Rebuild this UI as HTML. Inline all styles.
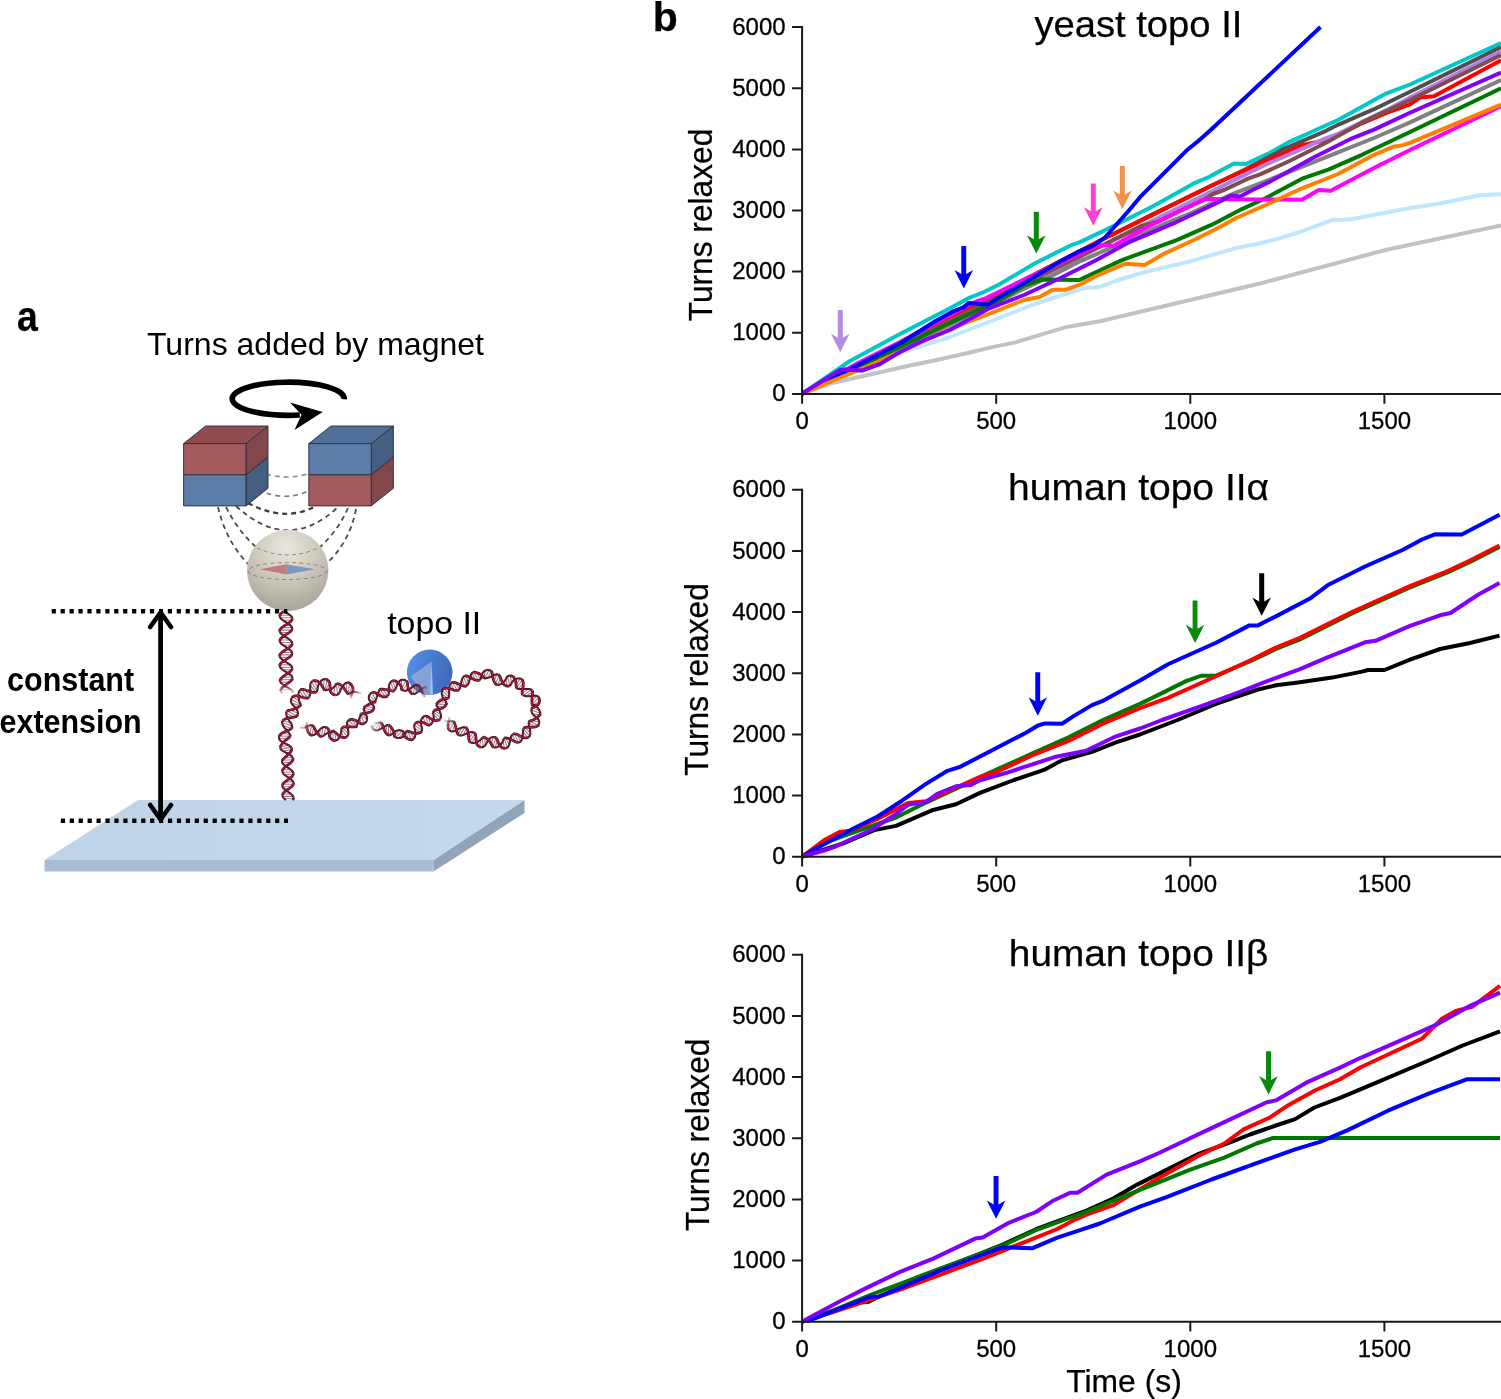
<!DOCTYPE html>
<html lang="en"><head><meta charset="utf-8"><title>Figure</title>
<style>html,body{margin:0;padding:0;background:#fff}body{width:1501px;height:1399px;overflow:hidden}svg text{white-space:pre}</style>
</head><body>
<svg width="1501" height="1399" viewBox="0 0 1501 1399" style="display:block">
<rect width="1501" height="1399" fill="#fff"/>
<defs>
<radialGradient id="gSph" cx="0.48" cy="0.22" r="0.85">
<stop offset="0" stop-color="#ebe7de"/><stop offset="0.45" stop-color="#cfcabf"/><stop offset="0.8" stop-color="#b3aea2"/><stop offset="1" stop-color="#a39e92"/>
</radialGradient>
<linearGradient id="gTopo" x1="0" y1="0" x2="1" y2="0.3">
<stop offset="0" stop-color="#5a93ea"/><stop offset="0.5" stop-color="#487cd3"/><stop offset="1" stop-color="#3f6cbe"/>
</linearGradient>
<linearGradient id="gSlide" x1="0" y1="0" x2="1" y2="0">
<stop offset="0" stop-color="#bfd4e8"/><stop offset="1" stop-color="#c4d9eb"/>
</linearGradient>
</defs>
<g id="slide">
<path d="M44.5 860V871.5H433.5V860Z" fill="#a9bed2"/>
<path d="M433.5 871.5L524.5 813V800L433.5 860Z" fill="#91a5b8"/>
<path d="M138 800H524.5L433.5 860H44.5Z" fill="url(#gSlide)"/>
</g>
<g id="field">
<path d="M266 474Q287 480 308 474" fill="none" stroke="#8c8c8c" stroke-width="1.7" stroke-dasharray="5 4"/>
<path d="M258 490Q286 502 308 491" fill="none" stroke="#7c7c7c" stroke-width="1.7" stroke-dasharray="5 4"/>
<path d="M248 503Q285 523 316 506" fill="none" stroke="#3c3c3c" stroke-width="2.3" stroke-dasharray="5 4"/>
<path d="M236 506Q288 554 338 507" fill="none" stroke="#4a4a4a" stroke-width="1.8" stroke-dasharray="5 4"/>
<path d="M226 507Q240 535 262 552" fill="none" stroke="#4a4a4a" stroke-width="1.8" stroke-dasharray="5 4"/>
<path d="M348 508Q336 535 314 552" fill="none" stroke="#4a4a4a" stroke-width="1.8" stroke-dasharray="5 4"/>
<path d="M218 507Q226 542 250 566" fill="none" stroke="#4a4a4a" stroke-width="1.8" stroke-dasharray="5 4"/>
<path d="M356 509Q350 542 326 564" fill="none" stroke="#4a4a4a" stroke-width="1.8" stroke-dasharray="5 4"/>
</g>
<g id="magnets">
<path d="M246 474.7L268 457.09999999999997V488.29999999999995L246 505.9Z" fill="#445f80" stroke="#2b2b3b" stroke-width="0.9" stroke-linejoin="round"/>
<path d="M246 443.6L268 426.0V457.09999999999997L246 474.7Z" fill="#82474b" stroke="#2b2b3b" stroke-width="0.9" stroke-linejoin="round"/>
<path d="M183.6 443.6L205.6 426.0H268L246 443.6Z" fill="#8f4d51" stroke="#2b2b3b" stroke-width="0.9" stroke-linejoin="round"/>
<path d="M183.6 474.7H246V505.9H183.6Z" fill="#5b7da7" stroke="#2b2b3b" stroke-width="0.9" stroke-linejoin="round"/>
<path d="M183.6 443.6H246V474.7H183.6Z" fill="#a55b5d" stroke="#2b2b3b" stroke-width="0.9" stroke-linejoin="round"/>
<path d="M371.2 474.7L393.4 457.09999999999997V488.29999999999995L371.2 505.9Z" fill="#82474b" stroke="#2b2b3b" stroke-width="0.9" stroke-linejoin="round"/>
<path d="M371.2 443.6L393.4 426.0V457.09999999999997L371.2 474.7Z" fill="#445f80" stroke="#2b2b3b" stroke-width="0.9" stroke-linejoin="round"/>
<path d="M308.8 443.6L331.0 426.0H393.4L371.2 443.6Z" fill="#50709a" stroke="#2b2b3b" stroke-width="0.9" stroke-linejoin="round"/>
<path d="M308.8 474.7H371.2V505.9H308.8Z" fill="#a55b5d" stroke="#2b2b3b" stroke-width="0.9" stroke-linejoin="round"/>
<path d="M308.8 443.6H371.2V474.7H308.8Z" fill="#5b7da7" stroke="#2b2b3b" stroke-width="0.9" stroke-linejoin="round"/>
</g>
<path d="M344.2 399.3A56 16.6 0 1 0 299.8 415.0" fill="none" stroke="#000" stroke-width="5.6"/>
<path d="M322.7 411.9L290 402.6L301.5 414.8L294.5 430Z" fill="#000"/>
<g id="bead">
<circle cx="287.7" cy="570.5" r="40.7" fill="url(#gSph)"/>
<ellipse cx="287.5" cy="571" rx="39.5" ry="8.5" fill="none" stroke="#77736a" stroke-width="1" stroke-dasharray="4 3.2" opacity="0.8"/>
<path d="M257 548Q287.5 562 318 548" fill="none" stroke="#77736a" stroke-width="1" stroke-dasharray="4 3.2" opacity="0.8"/>
<path d="M259.5 569.3L286.6 564.2V574.6Z" fill="#bd7275" opacity="0.9"/>
<path d="M315 569.3L286.6 564.2V574.6Z" fill="#7392c2" opacity="0.9"/>
</g>
<g id="dna">
<path d="M281.9 612.7L286.5 612.7M279.9 615.2L290.1 615.2M280.2 617.7L292.1 617.7M282.7 620.2L291.8 620.2M286.5 622.7L289.3 622.7M290.1 625.1L285.5 625.1M292.1 627.6L281.9 627.6M291.8 630.1L279.9 630.1M289.3 632.6L280.2 632.6M285.5 635.1L282.7 635.1M281.9 637.5L286.5 637.5M279.9 640.0L290.1 640.0M280.2 642.5L292.1 642.5M282.7 645.0L291.8 645.0M286.5 647.5L289.2 647.5M290.1 650.0L285.4 649.9M292.1 652.5L281.8 652.4M291.7 654.9L279.8 654.9M289.2 657.4L280.1 657.4M285.4 659.9L282.7 659.9M281.8 662.3L286.5 662.3M279.8 664.9L290.1 664.8M280.2 667.4L292.1 667.2M282.7 669.8L291.8 669.7M286.6 672.2L289.3 672.2M290.2 674.6L285.6 674.8M292.3 677.0L282.1 677.4M292.1 679.5L280.2 679.9M289.7 682.0L280.6 682.4" stroke="#7a5560" stroke-width="1.1" fill="none" opacity="0.75"/>
<path d="M286.0 684.7L283.3 684.8" stroke="#7a5560" stroke-width="1.1" fill="none" opacity="0.60"/>
<path d="M282.5 687.3L287.2 687.1" stroke="#7a5560" stroke-width="1.1" fill="none" opacity="0.45"/>
<path d="M280.7 689.9L290.9 689.4" stroke="#7a5560" stroke-width="1.1" fill="none" opacity="0.30"/>
<path d="M281.1 692.4L293.0 691.8" stroke="#7a5560" stroke-width="1.1" fill="none" opacity="0.15"/>
<path d="M279.7 616.3L279.9 617.1L280.3 617.9L281.0 618.7L281.9 619.5L282.9 620.3L284.1 621.1L285.4 621.9L286.6 622.7L287.9 623.5L289.1 624.3L290.1 625.1L291.0 625.9L291.7 626.7L292.1 627.5L292.3 628.3L292.2 629.1" stroke="#3d1820" stroke-width="2.0" fill="none" stroke-linecap="butt"/>
<path d="M279.7 616.3L279.9 617.1L280.3 617.9L281.0 618.7L281.9 619.5L282.9 620.3L284.1 621.1L285.4 621.9L286.6 622.7L287.9 623.5L289.1 624.3L290.1 625.1L291.0 625.9L291.7 626.7L292.1 627.5L292.3 628.3L292.2 629.1" stroke="#8f1737" stroke-width="0.9" fill="none" stroke-linecap="butt"/>
<path d="M279.7 641.1L279.9 641.9L280.4 642.7L281.0 643.5L281.9 644.3L283.0 645.1L284.1 645.9L285.4 646.7L286.7 647.6L287.9 648.4L289.1 649.2L290.1 650.0L291.0 650.8L291.6 651.6L292.1 652.4L292.2 653.2L292.2 654.0" stroke="#3d1820" stroke-width="2.0" fill="none" stroke-linecap="butt"/>
<path d="M279.7 641.1L279.9 641.9L280.4 642.7L281.0 643.5L281.9 644.3L283.0 645.1L284.1 645.9L285.4 646.7L286.7 647.6L287.9 648.4L289.1 649.2L290.1 650.0L291.0 650.8L291.6 651.6L292.1 652.4L292.2 653.2L292.2 654.0" stroke="#8f1737" stroke-width="0.9" fill="none" stroke-linecap="butt"/>
<path d="M279.7 666.0L279.9 666.8L280.4 667.7L281.1 668.4L282.0 669.3L283.0 670.0L284.2 670.8L285.5 671.6L286.8 672.4L288.1 673.1L289.3 673.9L290.3 674.7L291.2 675.4L291.9 676.2L292.3 677.0L292.5 677.7L292.5 678.5" stroke="#3d1820" stroke-width="2.0" fill="none" stroke-linecap="butt"/>
<path d="M279.7 666.0L279.9 666.8L280.4 667.7L281.1 668.4L282.0 669.3L283.0 670.0L284.2 670.8L285.5 671.6L286.8 672.4L288.1 673.1L289.3 673.9L290.3 674.7L291.2 675.4L291.9 676.2L292.3 677.0L292.5 677.7L292.5 678.5" stroke="#8f1737" stroke-width="0.9" fill="none" stroke-linecap="butt"/>
<path d="M280.6 691.1L280.8 691.9L281.3 692.7L282.1 693.4" stroke="#3d1820" stroke-width="2.0" fill="none" stroke-linecap="butt" opacity="0.2"/>
<path d="M280.6 691.1L280.8 691.9L281.3 692.7L282.1 693.4" stroke="#8f1737" stroke-width="0.9" fill="none" stroke-linecap="butt" opacity="0.2"/>
<path d="M284.6 611.5L285.8 612.3L287.1 613.1L288.3 613.9L289.5 614.7L290.5 615.5L291.3 616.3L291.9 617.1L292.2 617.9L292.3 618.7" stroke="#3d1820" stroke-width="2.0" fill="none" stroke-linecap="butt"/>
<path d="M284.6 611.5L285.8 612.3L287.1 613.1L288.3 613.9L289.5 614.7L290.5 615.5L291.3 616.3L291.9 617.1L292.2 617.9L292.3 618.7" stroke="#8f1737" stroke-width="0.9" fill="none" stroke-linecap="butt"/>
<path d="M279.8 631.5L280.1 632.3L280.6 633.1L281.4 633.9L282.3 634.7L283.4 635.5L284.6 636.3L285.9 637.1L287.2 637.9L288.4 638.7L289.5 639.5L290.5 640.3L291.3 641.1L291.9 642.0L292.2 642.8L292.3 643.6" stroke="#3d1820" stroke-width="2.0" fill="none" stroke-linecap="butt"/>
<path d="M279.8 631.5L280.1 632.3L280.6 633.1L281.4 633.9L282.3 634.7L283.4 635.5L284.6 636.3L285.9 637.1L287.2 637.9L288.4 638.7L289.5 639.5L290.5 640.3L291.3 641.1L291.9 642.0L292.2 642.8L292.3 643.6" stroke="#8f1737" stroke-width="0.9" fill="none" stroke-linecap="butt"/>
<path d="M279.7 656.3L280.0 657.2L280.6 658.0L281.3 658.8L282.3 659.6L283.4 660.4L284.6 661.2L285.9 662.0L287.2 662.8L288.4 663.6L289.5 664.4L290.5 665.1L291.3 665.9L291.9 666.7L292.2 667.5L292.3 668.3" stroke="#3d1820" stroke-width="2.0" fill="none" stroke-linecap="butt"/>
<path d="M279.7 656.3L280.0 657.2L280.6 658.0L281.3 658.8L282.3 659.6L283.4 660.4L284.6 661.2L285.9 662.0L287.2 662.8L288.4 663.6L289.5 664.4L290.5 665.1L291.3 665.9L291.9 666.7L292.2 667.5L292.3 668.3" stroke="#8f1737" stroke-width="0.9" fill="none" stroke-linecap="butt"/>
<path d="M280.2 681.5L280.5 682.3L281.1 683.0L281.9 683.8" stroke="#3d1820" stroke-width="2.0" fill="none" stroke-linecap="butt"/>
<path d="M280.2 681.5L280.5 682.3L281.1 683.0L281.9 683.8" stroke="#8f1737" stroke-width="0.9" fill="none" stroke-linecap="butt"/>
<path d="M281.9 683.8L282.9 684.6L284.1 685.3L285.4 686.1" stroke="#3d1820" stroke-width="2.0" fill="none" stroke-linecap="butt" opacity="0.8"/>
<path d="M281.9 683.8L282.9 684.6L284.1 685.3L285.4 686.1" stroke="#8f1737" stroke-width="0.9" fill="none" stroke-linecap="butt" opacity="0.8"/>
<path d="M285.4 686.1L286.7 686.8L288.0 687.5L289.2 688.3" stroke="#3d1820" stroke-width="2.0" fill="none" stroke-linecap="butt" opacity="0.6"/>
<path d="M285.4 686.1L286.7 686.8L288.0 687.5L289.2 688.3" stroke="#8f1737" stroke-width="0.9" fill="none" stroke-linecap="butt" opacity="0.6"/>
<path d="M289.2 688.3L290.4 689.0L291.4 689.8L292.2 690.5" stroke="#3d1820" stroke-width="2.0" fill="none" stroke-linecap="butt" opacity="0.4"/>
<path d="M289.2 688.3L290.4 689.0L291.4 689.8L292.2 690.5" stroke="#8f1737" stroke-width="0.9" fill="none" stroke-linecap="butt" opacity="0.4"/>
<path d="M292.2 690.5L292.8 691.3L293.2 692.1L293.2 692.9" stroke="#3d1820" stroke-width="2.0" fill="none" stroke-linecap="butt" opacity="0.2"/>
<path d="M292.2 690.5L292.8 691.3L293.2 692.1L293.2 692.9" stroke="#8f1737" stroke-width="0.9" fill="none" stroke-linecap="butt" opacity="0.2"/>
<path d="M283.5 611.5L282.4 612.3L281.5 613.1L280.7 613.9L280.1 614.7L279.8 615.5L279.7 616.3" stroke="#451020" stroke-width="2.7" fill="none" stroke-linecap="butt"/>
<path d="M283.5 611.5L282.4 612.3L281.5 613.1L280.7 613.9L280.1 614.7L279.8 615.5L279.7 616.3" stroke="#b3173d" stroke-width="1.4" fill="none" stroke-linecap="butt"/>
<path d="M292.2 629.1L291.9 629.9L291.3 630.7L290.6 631.5L289.6 632.3L288.5 633.1L287.2 633.9L286.0 634.7L284.7 635.5L283.5 636.3L282.4 637.1L281.4 637.9L280.6 638.7L280.1 639.5L279.8 640.3L279.7 641.1" stroke="#451020" stroke-width="2.7" fill="none" stroke-linecap="butt"/>
<path d="M292.2 629.1L291.9 629.9L291.3 630.7L290.6 631.5L289.6 632.3L288.5 633.1L287.2 633.9L286.0 634.7L284.7 635.5L283.5 636.3L282.4 637.1L281.4 637.9L280.6 638.7L280.1 639.5L279.8 640.3L279.7 641.1" stroke="#b3173d" stroke-width="1.4" fill="none" stroke-linecap="butt"/>
<path d="M292.2 654.0L291.8 654.8L291.2 655.6L290.4 656.4L289.5 657.2L288.3 658.0L287.1 658.8L285.8 659.6L284.6 660.4L283.4 661.2L282.3 662.0L281.3 662.8L280.5 663.6L280.0 664.4L279.7 665.2L279.7 666.0" stroke="#451020" stroke-width="2.7" fill="none" stroke-linecap="butt"/>
<path d="M292.2 654.0L291.8 654.8L291.2 655.6L290.4 656.4L289.5 657.2L288.3 658.0L287.1 658.8L285.8 659.6L284.6 660.4L283.4 661.2L282.3 662.0L281.3 662.8L280.5 663.6L280.0 664.4L279.7 665.2L279.7 666.0" stroke="#b3173d" stroke-width="1.4" fill="none" stroke-linecap="butt"/>
<path d="M292.5 678.5L292.2 679.4L291.6 680.2L290.8 681.0L289.9 681.8L288.8 682.7L287.6 683.5" stroke="#451020" stroke-width="2.7" fill="none" stroke-linecap="butt"/>
<path d="M292.5 678.5L292.2 679.4L291.6 680.2L290.8 681.0L289.9 681.8L288.8 682.7L287.6 683.5" stroke="#b3173d" stroke-width="1.4" fill="none" stroke-linecap="butt"/>
<path d="M287.6 683.5L286.4 684.4L285.2 685.3L284.0 686.1" stroke="#451020" stroke-width="2.7" fill="none" stroke-linecap="butt" opacity="0.8"/>
<path d="M287.6 683.5L286.4 684.4L285.2 685.3L284.0 686.1" stroke="#b3173d" stroke-width="1.4" fill="none" stroke-linecap="butt" opacity="0.8"/>
<path d="M284.0 686.1L282.9 687.0L282.0 687.8L281.3 688.7" stroke="#451020" stroke-width="2.7" fill="none" stroke-linecap="butt" opacity="0.6"/>
<path d="M284.0 686.1L282.9 687.0L282.0 687.8L281.3 688.7" stroke="#b3173d" stroke-width="1.4" fill="none" stroke-linecap="butt" opacity="0.6"/>
<path d="M281.3 688.7L280.8 689.5L280.6 690.3L280.6 691.1" stroke="#451020" stroke-width="2.7" fill="none" stroke-linecap="butt" opacity="0.4"/>
<path d="M281.3 688.7L280.8 689.5L280.6 690.3L280.6 691.1" stroke="#b3173d" stroke-width="1.4" fill="none" stroke-linecap="butt" opacity="0.4"/>
<path d="M292.3 618.7L292.1 619.5L291.7 620.3L291.1 621.1L290.2 621.9L289.2 622.7L288.0 623.5L286.8 624.3L285.5 625.1L284.2 625.9L283.1 626.7L282.0 627.5L281.1 628.3L280.4 629.1L279.9 629.9L279.7 630.7L279.8 631.5" stroke="#451020" stroke-width="2.7" fill="none" stroke-linecap="butt"/>
<path d="M292.3 618.7L292.1 619.5L291.7 620.3L291.1 621.1L290.2 621.9L289.2 622.7L288.0 623.5L286.8 624.3L285.5 625.1L284.2 625.9L283.1 626.7L282.0 627.5L281.1 628.3L280.4 629.1L279.9 629.9L279.7 630.7L279.8 631.5" stroke="#b3173d" stroke-width="1.4" fill="none" stroke-linecap="butt"/>
<path d="M292.3 643.6L292.1 644.4L291.7 645.2L291.0 646.0L290.1 646.8L289.1 647.6L287.9 648.4L286.7 649.2L285.4 650.0L284.1 650.7L283.0 651.5L281.9 652.3L281.0 653.1L280.3 653.9L279.9 654.7L279.6 655.5L279.7 656.3" stroke="#451020" stroke-width="2.7" fill="none" stroke-linecap="butt"/>
<path d="M292.3 643.6L292.1 644.4L291.7 645.2L291.0 646.0L290.1 646.8L289.1 647.6L287.9 648.4L286.7 649.2L285.4 650.0L284.1 650.7L283.0 651.5L281.9 652.3L281.0 653.1L280.3 653.9L279.9 654.7L279.6 655.5L279.7 656.3" stroke="#b3173d" stroke-width="1.4" fill="none" stroke-linecap="butt"/>
<path d="M292.3 668.3L292.1 669.1L291.7 669.9L291.0 670.7L290.2 671.5L289.1 672.3L288.0 673.1L286.8 674.0L285.5 674.8L284.3 675.7L283.1 676.5L282.1 677.4L281.3 678.2L280.6 679.0L280.2 679.8L280.1 680.7L280.2 681.5" stroke="#451020" stroke-width="2.7" fill="none" stroke-linecap="butt"/>
<path d="M292.3 668.3L292.1 669.1L291.7 669.9L291.0 670.7L290.2 671.5L289.1 672.3L288.0 673.1L286.8 674.0L285.5 674.8L284.3 675.7L283.1 676.5L282.1 677.4L281.3 678.2L280.6 679.0L280.2 679.8L280.1 680.7L280.2 681.5" stroke="#b3173d" stroke-width="1.4" fill="none" stroke-linecap="butt"/>
<path d="M293.4 798.8L284.4 798.8M293.2 796.4L282.6 796.4M291.0 793.9L282.8 794.0M287.6 791.5L284.9 791.5M284.4 789.1L288.3 789.1M282.5 786.7L291.5 786.7M282.7 784.3L293.4 784.3M284.9 781.9L293.2 781.8M288.2 779.4L291.0 779.4M291.5 777.0L287.6 777.0M293.3 774.5L284.3 774.6M293.1 772.1L282.4 772.2M290.8 769.7L282.6 769.8M287.4 767.3L284.7 767.4M284.2 765.0L288.0 764.9M282.2 762.7L291.2 762.4M282.3 760.3L292.9 759.8M284.3 757.9L292.5 757.2M287.4 755.2L290.1 754.9M290.3 752.3L286.5 752.9M291.7 749.6L282.9 751.0M291.1 747.1L280.6 749.1M288.5 745.2L280.4 746.7M284.8 743.4L282.1 743.8M281.2 741.4L285.1 740.9M279.1 738.8L288.1 738.4M279.3 736.0L289.9 736.2M281.7 733.3L289.9 734.3M285.4 731.4L288.1 731.9M289.1 729.9L285.4 728.9M291.5 728.4L283.0 725.5M292.1 726.1L282.1 722.5M290.8 723.1L283.0 720.4M288.6 719.7L286.1 718.6M286.7 716.0L290.2 717.8M286.2 712.9L294.1 717.2M287.5 710.9L296.9 715.9M290.5 709.9L298.0 713.3M294.4 709.0L297.0 709.8M298.1 707.2L294.3 706.5M300.4 705.5L291.7 703.4M300.6 704.2L291.0 699.6M299.6 701.8L293.1 696.6M298.6 697.9L296.8 695.9M298.5 693.8L300.9 696.8M299.4 690.7L304.7 697.9M301.6 689.4L307.7 698.1M304.8 689.8L309.6 696.5M308.7 691.1L310.3 693.3M312.6 692.2L310.2 689.1M315.6 692.2L310.2 685.1M317.1 690.9L311.5 681.9M317.7 688.1L314.3 680.6M318.7 684.3L318.2 681.7M321.1 680.8L321.2 684.7M324.2 679.1L323.2 688.0M327.2 679.8L324.7 690.2M329.7 683.1L325.6 690.3M330.0 687.4L328.5 689.6M330.4 691.5L332.4 688.2M333.8 694.7L335.0 685.8M337.7 694.4L336.1 683.9M340.0 691.6L337.9 683.7M341.6 687.8L341.1 685.2M344.1 684.5L344.0 688.3M346.8 682.7L346.2 691.6M349.7 683.2L348.0 693.7" stroke="#7a5560" stroke-width="1.1" fill="none" opacity="0.75"/>
<path d="M352.2 686.0L349.4 693.8" stroke="#7a5560" stroke-width="1.1" fill="none" opacity="0.60"/>
<path d="M353.0 690.3L351.1 692.3" stroke="#7a5560" stroke-width="1.1" fill="none" opacity="0.45"/>
<path d="M351.7 693.9L355.0 691.9" stroke="#7a5560" stroke-width="1.1" fill="none" opacity="0.30"/>
<path d="M351.0 696.5L359.1 692.6" stroke="#7a5560" stroke-width="1.1" fill="none" opacity="0.15"/>
<path d="M293.6 797.6L293.4 796.8L293.0 796.0L292.3 795.2L291.5 794.4L290.5 793.6L289.5 792.8L288.3 792.0L287.1 791.2L286.0 790.4L285.0 789.6L284.1 788.8L283.3 788.0L282.8 787.2L282.4 786.4L282.4 785.6" stroke="#3d1820" stroke-width="2.0" fill="none" stroke-linecap="butt"/>
<path d="M293.6 797.6L293.4 796.8L293.0 796.0L292.3 795.2L291.5 794.4L290.5 793.6L289.5 792.8L288.3 792.0L287.1 791.2L286.0 790.4L285.0 789.6L284.1 788.8L283.3 788.0L282.8 787.2L282.4 786.4L282.4 785.6" stroke="#8f1737" stroke-width="0.9" fill="none" stroke-linecap="butt"/>
<path d="M293.5 773.5L293.3 772.7L292.9 771.9L292.3 771.1L291.5 770.3L290.6 769.5L289.5 768.7L288.3 767.9L287.1 767.1L286.0 766.4L284.9 765.6L283.9 764.8L283.1 764.1L282.5 763.3L282.1 762.5L282.0 761.8L282.1 761.0" stroke="#3d1820" stroke-width="2.0" fill="none" stroke-linecap="butt"/>
<path d="M293.5 773.5L293.3 772.7L292.9 771.9L292.3 771.1L291.5 770.3L290.6 769.5L289.5 768.7L288.3 767.9L287.1 767.1L286.0 766.4L284.9 765.6L283.9 764.8L283.1 764.1L282.5 763.3L282.1 762.5L282.0 761.8L282.1 761.0" stroke="#8f1737" stroke-width="0.9" fill="none" stroke-linecap="butt"/>
<path d="M291.5 747.8L291.0 747.0L290.3 746.4L289.4 745.7L288.4 745.1L287.2 744.5L286.0 743.9L284.7 743.3L283.4 742.7L282.2 742.0L281.2 741.3L280.3 740.5L279.6 739.7L279.1 738.7L278.9 737.7L279.0 736.7" stroke="#3d1820" stroke-width="2.0" fill="none" stroke-linecap="butt"/>
<path d="M291.5 747.8L291.0 747.0L290.3 746.4L289.4 745.7L288.4 745.1L287.2 744.5L286.0 743.9L284.7 743.3L283.4 742.7L282.2 742.0L281.2 741.3L280.3 740.5L279.6 739.7L279.1 738.7L278.9 737.7L279.0 736.7" stroke="#8f1737" stroke-width="0.9" fill="none" stroke-linecap="butt"/>
<path d="M292.1 727.0L292.1 726.2L291.9 725.2L291.5 724.2L290.9 723.1L290.2 722.1L289.4 721.0L288.6 719.8L287.9 718.6L287.3 717.4L286.8 716.2L286.4 715.0L286.2 714.0L286.2 713.0L286.4 712.2L286.8 711.5" stroke="#3d1820" stroke-width="2.0" fill="none" stroke-linecap="butt"/>
<path d="M292.1 727.0L292.1 726.2L291.9 725.2L291.5 724.2L290.9 723.1L290.2 722.1L289.4 721.0L288.6 719.8L287.9 718.6L287.3 717.4L286.8 716.2L286.4 715.0L286.2 714.0L286.2 713.0L286.4 712.2L286.8 711.5" stroke="#8f1737" stroke-width="0.9" fill="none" stroke-linecap="butt"/>
<path d="M300.8 704.7L300.7 704.1L300.4 703.7L300.1 702.9L299.6 702.1L299.3 700.9L299.0 699.6L298.7 698.3L298.5 696.9L298.4 695.4L298.5 694.1L298.6 692.9L298.9 691.8L299.3 690.9L299.8 690.2L300.5 689.7" stroke="#3d1820" stroke-width="2.0" fill="none" stroke-linecap="butt"/>
<path d="M300.8 704.7L300.7 704.1L300.4 703.7L300.1 702.9L299.6 702.1L299.3 700.9L299.0 699.6L298.7 698.3L298.5 696.9L298.4 695.4L298.5 694.1L298.6 692.9L298.9 691.8L299.3 690.9L299.8 690.2L300.5 689.7" stroke="#8f1737" stroke-width="0.9" fill="none" stroke-linecap="butt"/>
<path d="M316.6 691.7L317.0 691.2L317.3 690.5L317.5 689.6L317.6 688.6L317.8 687.5L318.0 686.2L318.5 684.9L319.0 683.6L319.8 682.4L320.6 681.3L321.6 680.4L322.6 679.7L323.7 679.2L324.8 679.0L325.8 679.2" stroke="#3d1820" stroke-width="2.0" fill="none" stroke-linecap="butt"/>
<path d="M316.6 691.7L317.0 691.2L317.3 690.5L317.5 689.6L317.6 688.6L317.8 687.5L318.0 686.2L318.5 684.9L319.0 683.6L319.8 682.4L320.6 681.3L321.6 680.4L322.6 679.7L323.7 679.2L324.8 679.0L325.8 679.2" stroke="#8f1737" stroke-width="0.9" fill="none" stroke-linecap="butt"/>
<path d="M335.7 695.0L337.0 694.7L338.2 694.1L339.0 693.3L339.7 692.3L340.2 691.2L340.7 690.0L341.2 688.7L341.8 687.4L342.6 686.2L343.5 685.1L344.4 684.2L345.2 683.4L346.1 682.9L347.0 682.6L348.0 682.6" stroke="#3d1820" stroke-width="2.0" fill="none" stroke-linecap="butt"/>
<path d="M335.7 695.0L337.0 694.7L338.2 694.1L339.0 693.3L339.7 692.3L340.2 691.2L340.7 690.0L341.2 688.7L341.8 687.4L342.6 686.2L343.5 685.1L344.4 684.2L345.2 683.4L346.1 682.9L347.0 682.6L348.0 682.6" stroke="#8f1737" stroke-width="0.9" fill="none" stroke-linecap="butt"/>
<path d="M351.2 697.4L351.7 698.2" stroke="#3d1820" stroke-width="2.0" fill="none" stroke-linecap="butt" opacity="0.2"/>
<path d="M351.2 697.4L351.7 698.2" stroke="#8f1737" stroke-width="0.9" fill="none" stroke-linecap="butt" opacity="0.2"/>
<path d="M286.0 800.0L284.9 799.2L284.0 798.4L283.3 797.6L282.8 796.8L282.4 796.0L282.4 795.2" stroke="#3d1820" stroke-width="2.0" fill="none" stroke-linecap="butt"/>
<path d="M286.0 800.0L284.9 799.2L284.0 798.4L283.3 797.6L282.8 796.8L282.4 796.0L282.4 795.2" stroke="#8f1737" stroke-width="0.9" fill="none" stroke-linecap="butt"/>
<path d="M293.5 783.1L293.4 782.3L293.0 781.5L292.4 780.7L291.6 779.9L290.6 779.1L289.5 778.3L288.4 777.5L287.2 776.8L286.1 776.0L285.0 775.2L284.1 774.4L283.3 773.6L282.7 772.8L282.4 772.0L282.2 771.2" stroke="#3d1820" stroke-width="2.0" fill="none" stroke-linecap="butt"/>
<path d="M293.5 783.1L293.4 782.3L293.0 781.5L292.4 780.7L291.6 779.9L290.6 779.1L289.5 778.3L288.4 777.5L287.2 776.8L286.1 776.0L285.0 775.2L284.1 774.4L283.3 773.6L282.7 772.8L282.4 772.0L282.2 771.2" stroke="#8f1737" stroke-width="0.9" fill="none" stroke-linecap="butt"/>
<path d="M292.9 757.8L292.4 757.1L291.8 756.2L290.9 755.5L289.9 754.8L288.8 754.1L287.5 753.4L286.3 752.8L285.0 752.2L283.8 751.6L282.8 751.0L281.8 750.3L281.1 749.7L280.6 749.0L280.3 748.2L280.2 747.4" stroke="#3d1820" stroke-width="2.0" fill="none" stroke-linecap="butt"/>
<path d="M292.9 757.8L292.4 757.1L291.8 756.2L290.9 755.5L289.9 754.8L288.8 754.1L287.5 753.4L286.3 752.8L285.0 752.2L283.8 751.6L282.8 751.0L281.8 750.3L281.1 749.7L280.6 749.0L280.3 748.2L280.2 747.4" stroke="#8f1737" stroke-width="0.9" fill="none" stroke-linecap="butt"/>
<path d="M290.1 735.0L289.9 734.3L289.5 733.6L288.8 732.8L288.1 731.9L287.2 731.0L286.3 730.0L285.4 728.9L284.5 727.8L283.7 726.7L283.0 725.5L282.5 724.5L282.2 723.5L282.1 722.6L282.2 721.8L282.5 721.0" stroke="#3d1820" stroke-width="2.0" fill="none" stroke-linecap="butt"/>
<path d="M290.1 735.0L289.9 734.3L289.5 733.6L288.8 732.8L288.1 731.9L287.2 731.0L286.3 730.0L285.4 728.9L284.5 727.8L283.7 726.7L283.0 725.5L282.5 724.5L282.2 723.5L282.1 722.6L282.2 721.8L282.5 721.0" stroke="#8f1737" stroke-width="0.9" fill="none" stroke-linecap="butt"/>
<path d="M297.8 714.5L298.0 713.5L297.9 712.4L297.6 711.3L297.1 710.0L296.4 708.8L295.5 707.7L294.5 706.7L293.5 705.7L292.6 704.7L291.8 703.6L291.2 702.5L291.0 701.2L290.9 700.0L291.3 698.7L291.9 697.7" stroke="#3d1820" stroke-width="2.0" fill="none" stroke-linecap="butt"/>
<path d="M297.8 714.5L298.0 713.5L297.9 712.4L297.6 711.3L297.1 710.0L296.4 708.8L295.5 707.7L294.5 706.7L293.5 705.7L292.6 704.7L291.8 703.6L291.2 702.5L291.0 701.2L290.9 700.0L291.3 698.7L291.9 697.7" stroke="#8f1737" stroke-width="0.9" fill="none" stroke-linecap="butt"/>
<path d="M308.9 697.4L309.4 696.8L309.8 695.9L310.1 694.9L310.3 693.7L310.4 692.4L310.3 691.1L310.3 689.7L310.2 688.2L310.2 686.9L310.2 685.5L310.4 684.3L310.6 683.3L311.2 682.3L311.8 681.6L312.8 681.0" stroke="#3d1820" stroke-width="2.0" fill="none" stroke-linecap="butt"/>
<path d="M308.9 697.4L309.4 696.8L309.8 695.9L310.1 694.9L310.3 693.7L310.4 692.4L310.3 691.1L310.3 689.7L310.2 688.2L310.2 686.9L310.2 685.5L310.4 684.3L310.6 683.3L311.2 682.3L311.8 681.6L312.8 681.0" stroke="#8f1737" stroke-width="0.9" fill="none" stroke-linecap="butt"/>
<path d="M325.1 690.5L325.4 690.4L325.9 690.2L326.8 690.0L327.8 689.7L329.0 689.4L330.4 689.0L331.7 688.5L332.9 687.9L334.0 687.1L334.7 686.3L335.4 685.5L335.6 684.7L335.8 684.2L336.2 683.8L336.7 683.6" stroke="#3d1820" stroke-width="2.0" fill="none" stroke-linecap="butt"/>
<path d="M325.1 690.5L325.4 690.4L325.9 690.2L326.8 690.0L327.8 689.7L329.0 689.4L330.4 689.0L331.7 688.5L332.9 687.9L334.0 687.1L334.7 686.3L335.4 685.5L335.6 684.7L335.8 684.2L336.2 683.8L336.7 683.6" stroke="#8f1737" stroke-width="0.9" fill="none" stroke-linecap="butt"/>
<path d="M348.7 694.0L349.1 693.9L349.5 693.7" stroke="#3d1820" stroke-width="2.0" fill="none" stroke-linecap="butt"/>
<path d="M348.7 694.0L349.1 693.9L349.5 693.7" stroke="#8f1737" stroke-width="0.9" fill="none" stroke-linecap="butt"/>
<path d="M349.5 693.7L349.9 693.2L350.7 692.8L351.5 692.2" stroke="#3d1820" stroke-width="2.0" fill="none" stroke-linecap="butt" opacity="0.8"/>
<path d="M349.5 693.7L349.9 693.2L350.7 692.8L351.5 692.2" stroke="#8f1737" stroke-width="0.9" fill="none" stroke-linecap="butt" opacity="0.8"/>
<path d="M351.5 692.2L352.6 691.9L353.9 691.8L355.4 691.9" stroke="#3d1820" stroke-width="2.0" fill="none" stroke-linecap="butt" opacity="0.6"/>
<path d="M351.5 692.2L352.6 691.9L353.9 691.8L355.4 691.9" stroke="#8f1737" stroke-width="0.9" fill="none" stroke-linecap="butt" opacity="0.6"/>
<path d="M355.4 691.9L356.8 692.1L358.1 692.4" stroke="#3d1820" stroke-width="2.0" fill="none" stroke-linecap="butt" opacity="0.4"/>
<path d="M355.4 691.9L356.8 692.1L358.1 692.4" stroke="#8f1737" stroke-width="0.9" fill="none" stroke-linecap="butt" opacity="0.4"/>
<path d="M358.1 692.4L359.3 692.7L360.4 693.2L361.2 693.5" stroke="#3d1820" stroke-width="2.0" fill="none" stroke-linecap="butt" opacity="0.2"/>
<path d="M358.1 692.4L359.3 692.7L360.4 693.2L361.2 693.5" stroke="#8f1737" stroke-width="0.9" fill="none" stroke-linecap="butt" opacity="0.2"/>
<path d="M292.7 800.0L293.2 799.1L293.5 798.4L293.6 797.6" stroke="#451020" stroke-width="2.7" fill="none" stroke-linecap="butt"/>
<path d="M292.7 800.0L293.2 799.1L293.5 798.4L293.6 797.6" stroke="#b3173d" stroke-width="1.4" fill="none" stroke-linecap="butt"/>
<path d="M282.4 785.6L282.5 784.8L282.9 784.0L283.5 783.2L284.3 782.4L285.3 781.6L286.4 780.8L287.5 780.0L288.6 779.1L289.8 778.3L290.8 777.5L291.7 776.7L292.5 775.9L293.0 775.1L293.4 774.3L293.5 773.5" stroke="#451020" stroke-width="2.7" fill="none" stroke-linecap="butt"/>
<path d="M282.4 785.6L282.5 784.8L282.9 784.0L283.5 783.2L284.3 782.4L285.3 781.6L286.4 780.8L287.5 780.0L288.6 779.1L289.8 778.3L290.8 777.5L291.7 776.7L292.5 775.9L293.0 775.1L293.4 774.3L293.5 773.5" stroke="#b3173d" stroke-width="1.4" fill="none" stroke-linecap="butt"/>
<path d="M282.1 761.0L282.4 760.2L282.9 759.4L283.6 758.6L284.5 757.8L285.5 756.9L286.5 756.0L287.6 755.1L288.6 754.1L289.6 753.2L290.4 752.2L291.1 751.3L291.5 750.3L291.7 749.4L291.7 748.6L291.5 747.8" stroke="#451020" stroke-width="2.7" fill="none" stroke-linecap="butt"/>
<path d="M282.1 761.0L282.4 760.2L282.9 759.4L283.6 758.6L284.5 757.8L285.5 756.9L286.5 756.0L287.6 755.1L288.6 754.1L289.6 753.2L290.4 752.2L291.1 751.3L291.5 750.3L291.7 749.4L291.7 748.6L291.5 747.8" stroke="#b3173d" stroke-width="1.4" fill="none" stroke-linecap="butt"/>
<path d="M279.0 736.7L279.3 735.9L279.9 735.0L280.7 734.1L281.7 733.3L282.9 732.6L284.1 732.0L285.4 731.4L286.7 730.8L287.9 730.4L289.1 729.9L290.1 729.4L290.9 728.9L291.5 728.4L291.9 727.7L292.1 727.0" stroke="#451020" stroke-width="2.7" fill="none" stroke-linecap="butt"/>
<path d="M279.0 736.7L279.3 735.9L279.9 735.0L280.7 734.1L281.7 733.3L282.9 732.6L284.1 732.0L285.4 731.4L286.7 730.8L287.9 730.4L289.1 729.9L290.1 729.4L290.9 728.9L291.5 728.4L291.9 727.7L292.1 727.0" stroke="#b3173d" stroke-width="1.4" fill="none" stroke-linecap="butt"/>
<path d="M286.8 711.5L287.4 711.0L288.2 710.6L289.2 710.2L290.3 710.0L291.5 709.7L292.8 709.4L294.1 709.1L295.5 708.6L296.7 708.0L297.9 707.4L298.9 706.7L299.7 706.1L300.3 705.6L300.7 705.1L300.8 704.7" stroke="#451020" stroke-width="2.7" fill="none" stroke-linecap="butt"/>
<path d="M286.8 711.5L287.4 711.0L288.2 710.6L289.2 710.2L290.3 710.0L291.5 709.7L292.8 709.4L294.1 709.1L295.5 708.6L296.7 708.0L297.9 707.4L298.9 706.7L299.7 706.1L300.3 705.6L300.7 705.1L300.8 704.7" stroke="#b3173d" stroke-width="1.4" fill="none" stroke-linecap="butt"/>
<path d="M300.5 689.7L301.3 689.4L302.2 689.3L303.3 689.4L304.4 689.7L305.6 690.0L306.9 690.5L308.2 690.9L309.6 691.4L310.9 691.8L312.1 692.1L313.3 692.3L314.4 692.4L315.3 692.3L316.0 692.1L316.6 691.7" stroke="#451020" stroke-width="2.7" fill="none" stroke-linecap="butt"/>
<path d="M300.5 689.7L301.3 689.4L302.2 689.3L303.3 689.4L304.4 689.7L305.6 690.0L306.9 690.5L308.2 690.9L309.6 691.4L310.9 691.8L312.1 692.1L313.3 692.3L314.4 692.4L315.3 692.3L316.0 692.1L316.6 691.7" stroke="#b3173d" stroke-width="1.4" fill="none" stroke-linecap="butt"/>
<path d="M325.8 679.2L326.8 679.5L327.5 680.1L328.7 681.2L329.5 682.4L329.9 683.8L330.0 685.2L330.1 686.6L330.0 688.0L330.1 689.4L330.2 690.8L330.7 692.1L331.6 693.3L332.9 694.3L334.1 694.8L335.7 695.0" stroke="#451020" stroke-width="2.7" fill="none" stroke-linecap="butt"/>
<path d="M325.8 679.2L326.8 679.5L327.5 680.1L328.7 681.2L329.5 682.4L329.9 683.8L330.0 685.2L330.1 686.6L330.0 688.0L330.1 689.4L330.2 690.8L330.7 692.1L331.6 693.3L332.9 694.3L334.1 694.8L335.7 695.0" stroke="#b3173d" stroke-width="1.4" fill="none" stroke-linecap="butt"/>
<path d="M348.0 682.6L349.0 682.8L349.9 683.3L350.9 684.1L351.7 685.2L352.5 686.4" stroke="#451020" stroke-width="2.7" fill="none" stroke-linecap="butt"/>
<path d="M348.0 682.6L349.0 682.8L349.9 683.3L350.9 684.1L351.7 685.2L352.5 686.4" stroke="#b3173d" stroke-width="1.4" fill="none" stroke-linecap="butt"/>
<path d="M352.5 686.4L353.0 687.9L353.1 689.3L353.0 690.7" stroke="#451020" stroke-width="2.7" fill="none" stroke-linecap="butt" opacity="0.8"/>
<path d="M352.5 686.4L353.0 687.9L353.1 689.3L353.0 690.7" stroke="#b3173d" stroke-width="1.4" fill="none" stroke-linecap="butt" opacity="0.8"/>
<path d="M353.0 690.7L352.5 692.0L352.0 693.1L351.6 694.2" stroke="#451020" stroke-width="2.7" fill="none" stroke-linecap="butt" opacity="0.6"/>
<path d="M353.0 690.7L352.5 692.0L352.0 693.1L351.6 694.2" stroke="#b3173d" stroke-width="1.4" fill="none" stroke-linecap="butt" opacity="0.6"/>
<path d="M351.6 694.2L351.2 695.1L351.0 695.9" stroke="#451020" stroke-width="2.7" fill="none" stroke-linecap="butt" opacity="0.4"/>
<path d="M351.6 694.2L351.2 695.1L351.0 695.9" stroke="#b3173d" stroke-width="1.4" fill="none" stroke-linecap="butt" opacity="0.4"/>
<path d="M351.0 695.9L351.0 696.7L351.2 697.4" stroke="#451020" stroke-width="2.7" fill="none" stroke-linecap="butt" opacity="0.2"/>
<path d="M351.0 695.9L351.0 696.7L351.2 697.4" stroke="#b3173d" stroke-width="1.4" fill="none" stroke-linecap="butt" opacity="0.2"/>
<path d="M282.4 795.2L282.6 794.4L283.0 793.6L283.6 792.8L284.4 792.0L285.4 791.2L286.5 790.4L287.6 789.6L288.8 788.8L289.9 788.0L290.9 787.2L291.9 786.4L292.6 785.6L293.1 784.7L293.5 783.9L293.5 783.1" stroke="#451020" stroke-width="2.7" fill="none" stroke-linecap="butt"/>
<path d="M282.4 795.2L282.6 794.4L283.0 793.6L283.6 792.8L284.4 792.0L285.4 791.2L286.5 790.4L287.6 789.6L288.8 788.8L289.9 788.0L290.9 787.2L291.9 786.4L292.6 785.6L293.1 784.7L293.5 783.9L293.5 783.1" stroke="#b3173d" stroke-width="1.4" fill="none" stroke-linecap="butt"/>
<path d="M282.2 771.2L282.4 770.4L282.7 769.6L283.3 768.8L284.1 768.0L285.0 767.2L286.0 766.4L287.2 765.5L288.3 764.7L289.4 763.9L290.4 763.0L291.3 762.2L292.1 761.3L292.6 760.5L293.0 759.6L293.0 758.7L292.9 757.8" stroke="#451020" stroke-width="2.7" fill="none" stroke-linecap="butt"/>
<path d="M282.2 771.2L282.4 770.4L282.7 769.6L283.3 768.8L284.1 768.0L285.0 767.2L286.0 766.4L287.2 765.5L288.3 764.7L289.4 763.9L290.4 763.0L291.3 762.2L292.1 761.3L292.6 760.5L293.0 759.6L293.0 758.7L292.9 757.8" stroke="#b3173d" stroke-width="1.4" fill="none" stroke-linecap="butt"/>
<path d="M280.2 747.4L280.4 746.6L280.8 745.7L281.4 744.7L282.2 743.7L283.1 742.8L284.1 741.8L285.1 740.8L286.2 739.9L287.2 739.1L288.1 738.3L288.9 737.7L289.5 737.0L289.9 736.2L290.2 735.6L290.1 735.0" stroke="#451020" stroke-width="2.7" fill="none" stroke-linecap="butt"/>
<path d="M280.2 747.4L280.4 746.6L280.8 745.7L281.4 744.7L282.2 743.7L283.1 742.8L284.1 741.8L285.1 740.8L286.2 739.9L287.2 739.1L288.1 738.3L288.9 737.7L289.5 737.0L289.9 736.2L290.2 735.6L290.1 735.0" stroke="#b3173d" stroke-width="1.4" fill="none" stroke-linecap="butt"/>
<path d="M282.5 721.0L283.0 720.4L283.8 719.8L284.8 719.1L286.0 718.6L287.2 718.3L288.6 718.0L290.0 717.8L291.4 717.6L292.7 717.4L294.0 717.2L295.1 716.9L296.1 716.5L296.8 715.9L297.4 715.3L297.8 714.5" stroke="#451020" stroke-width="2.7" fill="none" stroke-linecap="butt"/>
<path d="M282.5 721.0L283.0 720.4L283.8 719.8L284.8 719.1L286.0 718.6L287.2 718.3L288.6 718.0L290.0 717.8L291.4 717.6L292.7 717.4L294.0 717.2L295.1 716.9L296.1 716.5L296.8 715.9L297.4 715.3L297.8 714.5" stroke="#b3173d" stroke-width="1.4" fill="none" stroke-linecap="butt"/>
<path d="M291.9 697.7L292.9 696.7L294.0 696.2L295.1 695.9L296.4 695.9L297.7 696.0L299.1 696.3L300.5 696.7L301.8 697.1L303.1 697.5L304.3 697.8L305.5 698.1L306.5 698.2L307.4 698.1L308.2 697.9L308.9 697.4" stroke="#451020" stroke-width="2.7" fill="none" stroke-linecap="butt"/>
<path d="M291.9 697.7L292.9 696.7L294.0 696.2L295.1 695.9L296.4 695.9L297.7 696.0L299.1 696.3L300.5 696.7L301.8 697.1L303.1 697.5L304.3 697.8L305.5 698.1L306.5 698.2L307.4 698.1L308.2 697.9L308.9 697.4" stroke="#b3173d" stroke-width="1.4" fill="none" stroke-linecap="butt"/>
<path d="M312.8 681.0L313.9 680.6L315.0 680.6L316.4 680.8L317.7 681.3L318.7 682.1L319.8 683.1L320.8 684.1L321.6 685.3L322.3 686.4L322.9 687.5L323.4 688.5L323.9 689.3L324.4 689.9L325.0 690.4L325.1 690.5" stroke="#451020" stroke-width="2.7" fill="none" stroke-linecap="butt"/>
<path d="M312.8 681.0L313.9 680.6L315.0 680.6L316.4 680.8L317.7 681.3L318.7 682.1L319.8 683.1L320.8 684.1L321.6 685.3L322.3 686.4L322.9 687.5L323.4 688.5L323.9 689.3L324.4 689.9L325.0 690.4L325.1 690.5" stroke="#b3173d" stroke-width="1.4" fill="none" stroke-linecap="butt"/>
<path d="M336.7 683.6L337.4 683.6L338.3 683.8L339.3 684.1L340.3 684.7L341.5 685.5L342.6 686.4L343.5 687.6L344.3 688.7L345.1 689.9L345.8 691.0L346.5 691.9L347.1 692.7L347.6 693.4L348.2 693.8L348.7 694.0" stroke="#451020" stroke-width="2.7" fill="none" stroke-linecap="butt"/>
<path d="M336.7 683.6L337.4 683.6L338.3 683.8L339.3 684.1L340.3 684.7L341.5 685.5L342.6 686.4L343.5 687.6L344.3 688.7L345.1 689.9L345.8 691.0L346.5 691.9L347.1 692.7L347.6 693.4L348.2 693.8L348.7 694.0" stroke="#b3173d" stroke-width="1.4" fill="none" stroke-linecap="butt"/>
<g id="topo"><circle cx="429.7" cy="672.3" r="22.8" fill="url(#gTopo)"/><path d="M431.5 661.5L410.5 676.5L424 694.5L431.5 694.8Z" fill="#8fa9d6" opacity="0.85"/><path d="M431.6 661.5L433 694L430.2 694.8Z" fill="#a9c8f7" opacity="0.9"/></g>
<path d="M299.9 727.7L306.6 722.3M426.9 687.3L424.5 696.4" stroke="#7a5560" stroke-width="1.1" fill="none" opacity="0.15"/>
<path d="M303.6 727.9L306.9 724.5M424.4 687.3L422.8 693.6" stroke="#7a5560" stroke-width="1.1" fill="none" opacity="0.30"/>
<path d="M309.7 725.2L307.8 731.4M418.5 691.3L419.7 686.8" stroke="#7a5560" stroke-width="1.1" fill="none" opacity="0.60"/>
<path d="M311.8 725.2L309.6 734.2M313.7 726.9L312.0 735.4M315.4 729.9L314.8 734.6M319.5 735.7L320.2 729.3M321.6 736.6L322.9 727.3M323.8 735.6L325.7 727.2M326.3 733.7L328.6 729.6M332.2 731.4L329.9 737.5M333.0 730.8L333.0 740.2M334.8 732.0L335.9 740.6M337.4 734.3L338.5 738.8M344.0 737.7L341.2 731.9M347.1 736.5L341.4 729.1M348.4 733.6L342.3 727.5M348.2 729.9L344.6 726.8M347.1 722.8L352.0 727.0M348.5 720.4L355.1 726.9M351.7 719.3L356.6 726.5M355.4 720.3L357.3 724.6M361.6 723.8L359.6 717.7M364.6 723.3L360.6 714.9M366.9 720.2L360.9 713.9M366.7 716.2L362.7 713.7M363.8 709.8L369.8 712.2M363.8 708.0L372.9 710.3M365.5 706.3L374.0 707.7M368.5 704.4L373.1 705.2M374.7 702.1L368.9 699.2M375.6 702.0L369.3 695.0M375.7 700.4L372.2 692.5M376.8 697.1L375.3 692.7M379.0 690.6L381.7 696.5M380.0 689.3L385.4 696.9M382.3 689.1L387.9 695.6M385.7 689.6L388.9 693.0M392.3 691.1L389.0 685.6M394.1 690.8L390.4 682.3M395.5 688.9L392.7 680.7M396.8 685.7L395.7 681.2M401.6 679.9L401.1 686.3M405.9 680.5L401.3 688.7M407.6 683.2L402.5 690.2M407.8 686.5L405.9 690.7M410.9 693.0L412.4 686.7M413.1 694.1L415.2 685.0M415.7 693.4L417.6 685.0" stroke="#7a5560" stroke-width="1.1" fill="none" opacity="0.75"/>
<path d="M300.5 727.8L301.7 727.9L303.1 727.9L304.4 727.8" stroke="#3d1820" stroke-width="2.0" fill="none" stroke-linecap="butt" opacity="0.2"/>
<path d="M300.5 727.8L301.7 727.9L303.1 727.9L304.4 727.8" stroke="#8f1737" stroke-width="0.9" fill="none" stroke-linecap="butt" opacity="0.2"/>
<path d="M304.4 727.8L305.7 727.4L306.8 726.9" stroke="#3d1820" stroke-width="2.0" fill="none" stroke-linecap="butt" opacity="0.4"/>
<path d="M304.4 727.8L305.7 727.4L306.8 726.9" stroke="#8f1737" stroke-width="0.9" fill="none" stroke-linecap="butt" opacity="0.4"/>
<path d="M306.8 726.9L307.8 726.2L308.7 725.7L309.5 725.3" stroke="#3d1820" stroke-width="2.0" fill="none" stroke-linecap="butt" opacity="0.6"/>
<path d="M306.8 726.9L307.8 726.2L308.7 725.7L309.5 725.3" stroke="#8f1737" stroke-width="0.9" fill="none" stroke-linecap="butt" opacity="0.6"/>
<path d="M309.5 725.3L310.3 725.0L311.0 725.0L311.7 725.1" stroke="#3d1820" stroke-width="2.0" fill="none" stroke-linecap="butt" opacity="0.8"/>
<path d="M309.5 725.3L310.3 725.0L311.0 725.0L311.7 725.1" stroke="#8f1737" stroke-width="0.9" fill="none" stroke-linecap="butt" opacity="0.8"/>
<path d="M321.8 736.6L322.5 736.4L323.2 736.0L324.0 735.5L324.7 734.8L325.5 734.1L326.6 733.6L327.9 733.1L329.2 732.8L330.4 732.6L331.4 732.2L331.9 731.7L332.1 731.2L332.2 730.9L332.7 730.8" stroke="#3d1820" stroke-width="2.0" fill="none" stroke-linecap="butt"/>
<path d="M321.8 736.6L322.5 736.4L323.2 736.0L324.0 735.5L324.7 734.8L325.5 734.1L326.6 733.6L327.9 733.1L329.2 732.8L330.4 732.6L331.4 732.2L331.9 731.7L332.1 731.2L332.2 730.9L332.7 730.8" stroke="#8f1737" stroke-width="0.9" fill="none" stroke-linecap="butt"/>
<path d="M347.0 736.6L347.7 735.8L348.2 734.8L348.4 733.7L348.5 732.5L348.4 731.3L348.2 730.0L347.9 728.7L347.6 727.4L347.3 726.1L347.1 724.9L347.0 723.8L347.1 722.7L347.4 721.8L347.9 721.0L348.7 720.2" stroke="#3d1820" stroke-width="2.0" fill="none" stroke-linecap="butt"/>
<path d="M347.0 736.6L347.7 735.8L348.2 734.8L348.4 733.7L348.5 732.5L348.4 731.3L348.2 730.0L347.9 728.7L347.6 727.4L347.3 726.1L347.1 724.9L347.0 723.8L347.1 722.7L347.4 721.8L347.9 721.0L348.7 720.2" stroke="#8f1737" stroke-width="0.9" fill="none" stroke-linecap="butt"/>
<path d="M364.0 723.6L365.2 722.9L366.2 721.9L366.7 720.8L367.0 719.4L367.1 718.1L366.8 716.7L366.4 715.4L365.9 714.2L365.3 713.1L364.7 712.0L364.2 711.0L363.9 710.1L363.7 709.1L363.7 708.4L363.8 707.9" stroke="#3d1820" stroke-width="2.0" fill="none" stroke-linecap="butt"/>
<path d="M364.0 723.6L365.2 722.9L366.2 721.9L366.7 720.8L367.0 719.4L367.1 718.1L366.8 716.7L366.4 715.4L365.9 714.2L365.3 713.1L364.7 712.0L364.2 711.0L363.9 710.1L363.7 709.1L363.7 708.4L363.8 707.9" stroke="#8f1737" stroke-width="0.9" fill="none" stroke-linecap="butt"/>
<path d="M375.3 702.1L375.5 701.7L375.5 701.1L375.8 700.2L376.1 699.2L376.5 698.0L376.9 696.8L377.3 695.5L377.7 694.3L378.1 693.1L378.5 692.0L378.7 691.1L379.0 690.4L379.4 689.8L379.6 689.5" stroke="#3d1820" stroke-width="2.0" fill="none" stroke-linecap="butt"/>
<path d="M375.3 702.1L375.5 701.7L375.5 701.1L375.8 700.2L376.1 699.2L376.5 698.0L376.9 696.8L377.3 695.5L377.7 694.3L378.1 693.1L378.5 692.0L378.7 691.1L379.0 690.4L379.4 689.8L379.6 689.5" stroke="#8f1737" stroke-width="0.9" fill="none" stroke-linecap="butt"/>
<path d="M394.1 690.9L394.5 690.4L395.0 689.8L395.4 689.0L395.9 688.1L396.3 687.0L396.8 685.8L397.3 684.6L397.9 683.4L398.6 682.3L399.4 681.2L400.4 680.4L401.7 679.8L403.2 679.7L404.8 680.0L406.0 680.6" stroke="#3d1820" stroke-width="2.0" fill="none" stroke-linecap="butt"/>
<path d="M394.1 690.9L394.5 690.4L395.0 689.8L395.4 689.0L395.9 688.1L396.3 687.0L396.8 685.8L397.3 684.6L397.9 683.4L398.6 682.3L399.4 681.2L400.4 680.4L401.7 679.8L403.2 679.7L404.8 680.0L406.0 680.6" stroke="#8f1737" stroke-width="0.9" fill="none" stroke-linecap="butt"/>
<path d="M412.6 694.0L413.4 694.1L414.3 694.0L415.2 693.6L416.2 693.1L417.1 692.4" stroke="#3d1820" stroke-width="2.0" fill="none" stroke-linecap="butt"/>
<path d="M412.6 694.0L413.4 694.1L414.3 694.0L415.2 693.6L416.2 693.1L417.1 692.4" stroke="#8f1737" stroke-width="0.9" fill="none" stroke-linecap="butt"/>
<path d="M417.1 692.4L418.1 691.7L419.2 690.8L420.2 690.0" stroke="#3d1820" stroke-width="2.0" fill="none" stroke-linecap="butt" opacity="0.8"/>
<path d="M417.1 692.4L418.1 691.7L419.2 690.8L420.2 690.0" stroke="#8f1737" stroke-width="0.9" fill="none" stroke-linecap="butt" opacity="0.8"/>
<path d="M420.2 690.0L421.2 689.2L422.3 688.5L423.2 687.9" stroke="#3d1820" stroke-width="2.0" fill="none" stroke-linecap="butt" opacity="0.6"/>
<path d="M420.2 690.0L421.2 689.2L422.3 688.5L423.2 687.9" stroke="#8f1737" stroke-width="0.9" fill="none" stroke-linecap="butt" opacity="0.6"/>
<path d="M423.2 687.9L424.2 687.4L425.1 687.2" stroke="#3d1820" stroke-width="2.0" fill="none" stroke-linecap="butt" opacity="0.4"/>
<path d="M423.2 687.9L424.2 687.4L425.1 687.2" stroke="#8f1737" stroke-width="0.9" fill="none" stroke-linecap="butt" opacity="0.4"/>
<path d="M425.1 687.2L425.9 687.1L426.7 687.3" stroke="#3d1820" stroke-width="2.0" fill="none" stroke-linecap="butt" opacity="0.2"/>
<path d="M425.1 687.2L425.9 687.1L426.7 687.3" stroke="#8f1737" stroke-width="0.9" fill="none" stroke-linecap="butt" opacity="0.2"/>
<path d="M311.9 735.4L312.7 735.3L313.7 735.1L314.7 734.6L315.7 733.9L316.6 733.1L317.5 732.2L318.4 731.2L319.3 730.2L320.2 729.3L321.1 728.4L322.0 727.8L323.0 727.3L323.9 727.0L324.9 727.0L325.8 727.2" stroke="#3d1820" stroke-width="2.0" fill="none" stroke-linecap="butt"/>
<path d="M311.9 735.4L312.7 735.3L313.7 735.1L314.7 734.6L315.7 733.9L316.6 733.1L317.5 732.2L318.4 731.2L319.3 730.2L320.2 729.3L321.1 728.4L322.0 727.8L323.0 727.3L323.9 727.0L324.9 727.0L325.8 727.2" stroke="#8f1737" stroke-width="0.9" fill="none" stroke-linecap="butt"/>
<path d="M335.4 740.7L336.4 740.4L337.3 739.9L338.1 739.2L338.8 738.3L339.5 737.2L340.0 736.0L340.5 734.7L340.8 733.4L341.1 732.2L341.3 731.0L341.5 730.0L341.4 729.3L341.5 728.6L341.8 728.0L342.2 727.5" stroke="#3d1820" stroke-width="2.0" fill="none" stroke-linecap="butt"/>
<path d="M335.4 740.7L336.4 740.4L337.3 739.9L338.1 739.2L338.8 738.3L339.5 737.2L340.0 736.0L340.5 734.7L340.8 733.4L341.1 732.2L341.3 731.0L341.5 730.0L341.4 729.3L341.5 728.6L341.8 728.0L342.2 727.5" stroke="#8f1737" stroke-width="0.9" fill="none" stroke-linecap="butt"/>
<path d="M356.7 726.3L357.0 725.8L357.1 725.2L357.4 724.3L357.7 723.3L358.1 722.2L358.5 720.9L358.9 719.7L359.4 718.4L359.8 717.3L360.2 716.2L360.5 715.3L360.6 714.7L360.5 714.3L360.8 714.0" stroke="#3d1820" stroke-width="2.0" fill="none" stroke-linecap="butt"/>
<path d="M356.7 726.3L357.0 725.8L357.1 725.2L357.4 724.3L357.7 723.3L358.1 722.2L358.5 720.9L358.9 719.7L359.4 718.4L359.8 717.3L360.2 716.2L360.5 715.3L360.6 714.7L360.5 714.3L360.8 714.0" stroke="#8f1737" stroke-width="0.9" fill="none" stroke-linecap="butt"/>
<path d="M374.0 707.9L374.0 707.0L373.7 706.1L373.2 705.3L372.5 704.4L371.8 703.5L370.9 702.5L370.1 701.5L369.4 700.3L368.9 699.1L368.8 697.5L368.9 696.2L369.6 694.7L370.3 693.7L371.4 692.9L372.4 692.5" stroke="#3d1820" stroke-width="2.0" fill="none" stroke-linecap="butt"/>
<path d="M374.0 707.9L374.0 707.0L373.7 706.1L373.2 705.3L372.5 704.4L371.8 703.5L370.9 702.5L370.1 701.5L369.4 700.3L368.9 699.1L368.8 697.5L368.9 696.2L369.6 694.7L370.3 693.7L371.4 692.9L372.4 692.5" stroke="#8f1737" stroke-width="0.9" fill="none" stroke-linecap="butt"/>
<path d="M387.7 695.9L388.2 695.2L388.6 694.4L388.8 693.4L388.9 692.4L388.9 691.2L388.8 689.9L388.8 688.6L388.8 687.3L388.9 685.9L389.2 684.6L389.7 683.5L390.2 682.5L390.9 681.7L391.7 681.1L392.6 680.7" stroke="#3d1820" stroke-width="2.0" fill="none" stroke-linecap="butt"/>
<path d="M387.7 695.9L388.2 695.2L388.6 694.4L388.8 693.4L388.9 692.4L388.9 691.2L388.8 689.9L388.8 688.6L388.8 687.3L388.9 685.9L389.2 684.6L389.7 683.5L390.2 682.5L390.9 681.7L391.7 681.1L392.6 680.7" stroke="#8f1737" stroke-width="0.9" fill="none" stroke-linecap="butt"/>
<path d="M402.7 690.3L403.8 690.7L405.0 690.8L406.4 690.7L407.5 690.2L408.7 689.6L409.7 688.8L410.8 688.0L411.8 687.2L412.8 686.4L413.8 685.8L414.7 685.2L415.6 684.9L416.5 684.8L417.3 684.9" stroke="#3d1820" stroke-width="2.0" fill="none" stroke-linecap="butt"/>
<path d="M402.7 690.3L403.8 690.7L405.0 690.8L406.4 690.7L407.5 690.2L408.7 689.6L409.7 688.8L410.8 688.0L411.8 687.2L412.8 686.4L413.8 685.8L414.7 685.2L415.6 684.9L416.5 684.8L417.3 684.9" stroke="#8f1737" stroke-width="0.9" fill="none" stroke-linecap="butt"/>
<path d="M311.7 725.1L312.3 725.5L313.0 726.0L313.6 726.8L314.2 727.7L314.8 728.7L315.4 729.9L316.0 731.0L316.7 732.2L317.4 733.2L318.1 734.2L318.9 735.1L319.6 735.8L320.3 736.2L321.0 736.5L321.8 736.6" stroke="#451020" stroke-width="2.7" fill="none" stroke-linecap="butt"/>
<path d="M311.7 725.1L312.3 725.5L313.0 726.0L313.6 726.8L314.2 727.7L314.8 728.7L315.4 729.9L316.0 731.0L316.7 732.2L317.4 733.2L318.1 734.2L318.9 735.1L319.6 735.8L320.3 736.2L321.0 736.5L321.8 736.6" stroke="#b3173d" stroke-width="1.4" fill="none" stroke-linecap="butt"/>
<path d="M332.7 730.8L333.2 730.9L333.8 731.2L334.5 731.7L335.3 732.4L336.1 733.1L337.0 734.0L338.0 734.8L339.1 735.6L340.2 736.4L341.3 737.0L342.4 737.4L343.7 737.6L344.8 737.6L345.8 737.3L347.0 736.6" stroke="#451020" stroke-width="2.7" fill="none" stroke-linecap="butt"/>
<path d="M332.7 730.8L333.2 730.9L333.8 731.2L334.5 731.7L335.3 732.4L336.1 733.1L337.0 734.0L338.0 734.8L339.1 735.6L340.2 736.4L341.3 737.0L342.4 737.4L343.7 737.6L344.8 737.6L345.8 737.3L347.0 736.6" stroke="#b3173d" stroke-width="1.4" fill="none" stroke-linecap="butt"/>
<path d="M348.7 720.2L349.6 719.7L350.7 719.4L351.9 719.4L353.2 719.5L354.5 719.9L355.8 720.5L356.9 721.2L358.0 721.9L359.0 722.6L360.0 723.2L361.0 723.7L362.0 723.9L363.1 723.9L364.0 723.6" stroke="#451020" stroke-width="2.7" fill="none" stroke-linecap="butt"/>
<path d="M348.7 720.2L349.6 719.7L350.7 719.4L351.9 719.4L353.2 719.5L354.5 719.9L355.8 720.5L356.9 721.2L358.0 721.9L359.0 722.6L360.0 723.2L361.0 723.7L362.0 723.9L363.1 723.9L364.0 723.6" stroke="#b3173d" stroke-width="1.4" fill="none" stroke-linecap="butt"/>
<path d="M363.8 707.9L364.1 707.6L364.7 707.0L365.4 706.4L366.3 705.8L367.3 705.1L368.5 704.5L369.6 703.9L370.8 703.3L372.0 702.8L373.1 702.4L374.0 702.2L374.7 702.0L375.1 702.2L375.4 702.1L375.3 702.1" stroke="#451020" stroke-width="2.7" fill="none" stroke-linecap="butt"/>
<path d="M363.8 707.9L364.1 707.6L364.7 707.0L365.4 706.4L366.3 705.8L367.3 705.1L368.5 704.5L369.6 703.9L370.8 703.3L372.0 702.8L373.1 702.4L374.0 702.2L374.7 702.0L375.1 702.2L375.4 702.1L375.3 702.1" stroke="#b3173d" stroke-width="1.4" fill="none" stroke-linecap="butt"/>
<path d="M379.6 689.5L380.2 689.2L380.9 689.1L381.8 689.1L382.8 689.1L384.0 689.3L385.2 689.5L386.5 689.7L387.8 690.0L389.1 690.3L390.3 690.5L391.3 690.8L392.2 691.0L392.8 691.2L393.5 691.1L394.1 690.9" stroke="#451020" stroke-width="2.7" fill="none" stroke-linecap="butt"/>
<path d="M379.6 689.5L380.2 689.2L380.9 689.1L381.8 689.1L382.8 689.1L384.0 689.3L385.2 689.5L386.5 689.7L387.8 690.0L389.1 690.3L390.3 690.5L391.3 690.8L392.2 691.0L392.8 691.2L393.5 691.1L394.1 690.9" stroke="#b3173d" stroke-width="1.4" fill="none" stroke-linecap="butt"/>
<path d="M406.0 680.6L406.9 681.5L407.4 682.4L407.6 683.4L407.6 684.4L407.7 685.6L407.9 686.8L408.3 688.1L408.7 689.3L409.3 690.5L409.8 691.6L410.5 692.5L411.1 693.2L411.9 693.7L412.6 694.0" stroke="#451020" stroke-width="2.7" fill="none" stroke-linecap="butt"/>
<path d="M406.0 680.6L406.9 681.5L407.4 682.4L407.6 683.4L407.6 684.4L407.7 685.6L407.9 686.8L408.3 688.1L408.7 689.3L409.3 690.5L409.8 691.6L410.5 692.5L411.1 693.2L411.9 693.7L412.6 694.0" stroke="#b3173d" stroke-width="1.4" fill="none" stroke-linecap="butt"/>
<path d="M426.7 687.3L427.4 687.7" stroke="#451020" stroke-width="2.7" fill="none" stroke-linecap="butt" opacity="0.2"/>
<path d="M426.7 687.3L427.4 687.7" stroke="#b3173d" stroke-width="1.4" fill="none" stroke-linecap="butt" opacity="0.2"/>
<path d="M306.8 722.7L306.9 723.3L306.9 724.2L306.7 725.0" stroke="#451020" stroke-width="2.7" fill="none" stroke-linecap="butt" opacity="0.2"/>
<path d="M306.8 722.7L306.9 723.3L306.9 724.2L306.7 725.0" stroke="#b3173d" stroke-width="1.4" fill="none" stroke-linecap="butt" opacity="0.2"/>
<path d="M306.7 725.0L306.6 726.1L306.6 727.2" stroke="#451020" stroke-width="2.7" fill="none" stroke-linecap="butt" opacity="0.4"/>
<path d="M306.7 725.0L306.6 726.1L306.6 727.2" stroke="#b3173d" stroke-width="1.4" fill="none" stroke-linecap="butt" opacity="0.4"/>
<path d="M306.6 727.2L306.8 728.5L307.2 729.8L307.6 731.0" stroke="#451020" stroke-width="2.7" fill="none" stroke-linecap="butt" opacity="0.6"/>
<path d="M306.6 727.2L306.8 728.5L307.2 729.8L307.6 731.0" stroke="#b3173d" stroke-width="1.4" fill="none" stroke-linecap="butt" opacity="0.6"/>
<path d="M307.6 731.0L308.2 732.2L308.8 733.2L309.5 734.1" stroke="#451020" stroke-width="2.7" fill="none" stroke-linecap="butt" opacity="0.8"/>
<path d="M307.6 731.0L308.2 732.2L308.8 733.2L309.5 734.1" stroke="#b3173d" stroke-width="1.4" fill="none" stroke-linecap="butt" opacity="0.8"/>
<path d="M309.5 734.1L310.3 734.7L311.0 735.2L311.9 735.4" stroke="#451020" stroke-width="2.7" fill="none" stroke-linecap="butt"/>
<path d="M309.5 734.1L310.3 734.7L311.0 735.2L311.9 735.4" stroke="#b3173d" stroke-width="1.4" fill="none" stroke-linecap="butt"/>
<path d="M325.8 727.2L327.0 727.8L328.1 728.8L328.9 730.0L329.2 731.3L329.3 732.6L329.3 733.9L329.3 735.3L329.6 736.7L330.3 738.0L331.4 739.1L332.4 739.9L333.5 740.4L334.5 740.7L335.4 740.7" stroke="#451020" stroke-width="2.7" fill="none" stroke-linecap="butt"/>
<path d="M325.8 727.2L327.0 727.8L328.1 728.8L328.9 730.0L329.2 731.3L329.3 732.6L329.3 733.9L329.3 735.3L329.6 736.7L330.3 738.0L331.4 739.1L332.4 739.9L333.5 740.4L334.5 740.7L335.4 740.7" stroke="#b3173d" stroke-width="1.4" fill="none" stroke-linecap="butt"/>
<path d="M342.2 727.5L342.8 727.2L343.6 727.0L344.6 726.8L345.6 726.8L346.9 726.8L348.2 726.8L349.5 726.9L350.8 726.9L352.1 727.0L353.3 727.0L354.3 727.0L355.1 727.0L355.8 726.9L356.4 726.7L356.7 726.3" stroke="#451020" stroke-width="2.7" fill="none" stroke-linecap="butt"/>
<path d="M342.2 727.5L342.8 727.2L343.6 727.0L344.6 726.8L345.6 726.8L346.9 726.8L348.2 726.8L349.5 726.9L350.8 726.9L352.1 727.0L353.3 727.0L354.3 727.0L355.1 727.0L355.8 726.9L356.4 726.7L356.7 726.3" stroke="#b3173d" stroke-width="1.4" fill="none" stroke-linecap="butt"/>
<path d="M360.8 714.0L361.2 713.8L361.7 713.8L362.4 713.7L363.3 713.7L364.4 713.5L365.6 713.3L366.9 713.0L368.2 712.7L369.5 712.3L370.6 711.9L371.7 711.4L372.7 710.6L373.4 709.6L373.8 708.8L374.0 707.9" stroke="#451020" stroke-width="2.7" fill="none" stroke-linecap="butt"/>
<path d="M360.8 714.0L361.2 713.8L361.7 713.8L362.4 713.7L363.3 713.7L364.4 713.5L365.6 713.3L366.9 713.0L368.2 712.7L369.5 712.3L370.6 711.9L371.7 711.4L372.7 710.6L373.4 709.6L373.8 708.8L374.0 707.9" stroke="#b3173d" stroke-width="1.4" fill="none" stroke-linecap="butt"/>
<path d="M372.4 692.5L373.4 692.4L374.5 692.5L375.5 692.8L376.6 693.4L377.6 694.0L378.7 694.8L379.8 695.5L381.0 696.1L382.3 696.6L383.5 696.9L384.8 696.9L385.9 696.8L386.8 696.5L387.7 695.9" stroke="#451020" stroke-width="2.7" fill="none" stroke-linecap="butt"/>
<path d="M372.4 692.5L373.4 692.4L374.5 692.5L375.5 692.8L376.6 693.4L377.6 694.0L378.7 694.8L379.8 695.5L381.0 696.1L382.3 696.6L383.5 696.9L384.8 696.9L385.9 696.8L386.8 696.5L387.7 695.9" stroke="#b3173d" stroke-width="1.4" fill="none" stroke-linecap="butt"/>
<path d="M392.6 680.7L393.6 680.6L394.6 680.8L395.6 681.1L396.7 681.7L397.8 682.5L398.8 683.3L399.7 684.3L400.5 685.3L401.1 686.3L401.3 687.3L401.4 688.1L401.4 688.8L401.5 689.3L401.9 689.8L402.7 690.3" stroke="#451020" stroke-width="2.7" fill="none" stroke-linecap="butt"/>
<path d="M392.6 680.7L393.6 680.6L394.6 680.8L395.6 681.1L396.7 681.7L397.8 682.5L398.8 683.3L399.7 684.3L400.5 685.3L401.1 686.3L401.3 687.3L401.4 688.1L401.4 688.8L401.5 689.3L401.9 689.8L402.7 690.3" stroke="#b3173d" stroke-width="1.4" fill="none" stroke-linecap="butt"/>
<path d="M417.3 684.9L418.0 685.2L418.7 685.7" stroke="#451020" stroke-width="2.7" fill="none" stroke-linecap="butt"/>
<path d="M417.3 684.9L418.0 685.2L418.7 685.7" stroke="#b3173d" stroke-width="1.4" fill="none" stroke-linecap="butt"/>
<path d="M418.7 685.7L419.4 686.4L420.0 687.4L420.6 688.4" stroke="#451020" stroke-width="2.7" fill="none" stroke-linecap="butt" opacity="0.8"/>
<path d="M418.7 685.7L419.4 686.4L420.0 687.4L420.6 688.4" stroke="#b3173d" stroke-width="1.4" fill="none" stroke-linecap="butt" opacity="0.8"/>
<path d="M420.6 688.4L421.1 689.6L421.6 690.8L422.2 692.0" stroke="#451020" stroke-width="2.7" fill="none" stroke-linecap="butt" opacity="0.6"/>
<path d="M420.6 688.4L421.1 689.6L421.6 690.8L422.2 692.0" stroke="#b3173d" stroke-width="1.4" fill="none" stroke-linecap="butt" opacity="0.6"/>
<path d="M422.2 692.0L422.7 693.2L423.2 694.4" stroke="#451020" stroke-width="2.7" fill="none" stroke-linecap="butt" opacity="0.4"/>
<path d="M422.2 692.0L422.7 693.2L423.2 694.4" stroke="#b3173d" stroke-width="1.4" fill="none" stroke-linecap="butt" opacity="0.4"/>
<path d="M423.2 694.4L423.8 695.4L424.4 696.2L425.0 696.9" stroke="#451020" stroke-width="2.7" fill="none" stroke-linecap="butt" opacity="0.2"/>
<path d="M423.2 694.4L423.8 695.4L424.4 696.2L425.0 696.9" stroke="#b3173d" stroke-width="1.4" fill="none" stroke-linecap="butt" opacity="0.2"/>
<path d="M371.9 724.6L374.2 723.0M449.1 719.5L446.9 721.2" stroke="#7a5560" stroke-width="1.1" fill="none" opacity="0.15"/>
<path d="M372.2 728.0L377.8 722.8M448.3 723.1L450.6 721.1" stroke="#7a5560" stroke-width="1.1" fill="none" opacity="0.30"/>
<path d="M374.9 730.3L380.0 722.3M447.9 727.0L453.2 721.3" stroke="#7a5560" stroke-width="1.1" fill="none" opacity="0.45"/>
<path d="M378.2 730.1L381.7 723.1M449.4 730.3L454.3 722.1" stroke="#7a5560" stroke-width="1.1" fill="none" opacity="0.60"/>
<path d="M381.7 728.4L382.8 725.6M384.8 726.4L383.9 729.1M387.1 725.2L385.6 732.6M388.9 725.3L388.1 734.8M391.1 727.3L390.4 735.0M393.2 730.5L392.6 733.5M394.4 733.9L395.4 731.2M394.3 736.0L399.3 730.2M395.6 737.4L402.5 730.8M398.8 738.0L403.9 732.1M402.8 736.9L403.6 734.0M404.8 734.1L405.1 736.9M405.8 732.0L408.4 739.1M407.4 731.2L411.7 739.7M410.0 731.8L414.2 738.4M413.5 733.0L415.3 735.4M417.4 733.4L415.3 731.5M420.5 732.5L414.5 727.9M422.0 730.5L414.3 724.9M421.9 727.7L415.8 722.9M421.1 724.1L418.8 722.0M421.2 720.1L422.7 722.4M422.9 717.0L426.0 724.0M425.8 716.0L428.4 725.1M428.6 717.1L430.6 724.6M431.6 719.2L432.7 722.1M435.4 720.6L433.7 718.3M438.8 720.0L433.4 714.7M440.8 717.8L433.2 712.1M440.9 714.6L434.2 710.5M439.5 711.0L436.8 709.6M437.8 707.6L440.4 708.8M436.5 705.7L444.0 707.1M436.7 703.9L446.2 704.6M438.7 701.6L446.4 702.3M441.9 699.6L444.9 700.3M445.4 698.5L442.8 697.4M447.6 698.4L441.8 693.5M448.9 697.1L442.3 690.2M449.2 694.3L444.2 688.4M449.1 690.6L447.3 688.2M449.3 686.8L450.9 689.1M450.3 683.9L454.5 690.2M452.3 682.5L457.5 690.5M455.3 682.7L459.4 689.3M458.9 684.0L460.3 686.7M462.3 685.6L461.0 683.1M465.0 686.4L462.0 679.4M467.1 685.5L463.5 676.7M468.6 683.0L465.7 675.8M469.7 679.4L468.5 676.6M470.7 675.8L471.8 678.4M471.8 673.2L475.3 680.0M473.6 672.2L478.3 680.4M476.6 672.5L480.4 679.3M480.1 674.0L481.3 676.9M482.8 676.3L482.4 673.5M483.8 678.1L485.3 670.6M484.6 678.5L489.2 670.1M487.2 678.0L491.5 671.6M490.8 676.9L492.4 674.2M494.0 675.2L493.0 677.8M496.9 674.3L494.1 681.4M499.0 675.1L495.7 684.0M500.5 677.5L498.0 684.9M501.8 681.0L501.0 684.0M503.8 684.4L504.1 681.6M507.1 686.1L506.0 678.6M509.9 685.5L507.5 676.3M511.5 683.4L510.3 675.7M513.3 680.6L514.1 677.6M516.8 678.7L515.6 681.3M520.3 678.6L516.0 684.9M522.5 680.2L516.5 687.6M523.3 683.2L518.1 689.0M523.0 687.0L520.8 689.1M522.2 690.7L524.4 688.9M522.2 693.6L528.2 688.9M523.6 695.5L531.1 689.7M526.4 696.3L532.5 691.5M530.2 696.3L532.5 694.2M533.9 695.7L532.0 697.8M536.8 695.8L531.8 701.6M538.8 697.6L532.1 704.4M539.5 701.3L532.8 705.2M537.8 705.0L534.7 705.2M534.6 706.6L537.4 707.3M532.3 708.0L539.4 710.6M531.4 710.3L540.5 713.2M532.4 713.7L540.1 714.7M535.2 716.4L538.2 716.5M538.0 719.0L535.2 718.8M539.4 722.2L532.0 720.4M538.1 725.5L529.7 721.1M535.2 727.0L528.7 722.7M531.4 727.3L529.0 725.4M527.7 727.1L529.8 729.0M524.9 727.5L530.3 732.8M523.4 728.8L529.7 735.9M523.0 731.4L527.5 737.8M522.8 735.1L524.3 737.7M522.0 738.8L520.7 736.3M520.5 741.6L517.4 734.6M518.3 742.6L514.6 733.8M515.5 741.8L512.3 734.7M512.1 740.1L510.8 737.4M508.7 738.5L510.0 741.1M505.9 737.9L509.2 744.8M504.1 738.6L507.4 747.5M502.9 740.8L504.5 748.4M501.2 744.0L501.1 747.0M498.2 746.5L498.8 743.8M495.1 747.5L497.5 740.3M492.9 746.8L495.8 737.8M491.5 744.6L493.1 737.0M489.8 741.5L489.7 738.5M487.0 738.8L487.4 741.6M484.4 737.3L485.5 744.9M482.5 737.5L483.0 747.0M480.9 739.2L479.6 746.9M478.2 741.4L477.0 744.2M474.6 742.7L476.1 740.4M471.4 742.8L475.9 736.6M469.5 741.4L475.2 733.8M468.7 738.6L473.2 732.2M468.4 735.0L470.0 732.4M467.9 731.2L466.5 733.7M466.8 728.4L463.0 735.0M464.7 727.2L460.0 735.5M461.8 727.6L458.0 734.4M458.3 729.0L456.9 731.8M455.0 730.8L456.1 728.2M452.0 731.6L455.1 724.6" stroke="#7a5560" stroke-width="1.1" fill="none" opacity="0.75"/>
<path d="M373.5 729.5L374.5 730.1" stroke="#3d1820" stroke-width="2.0" fill="none" stroke-linecap="butt" opacity="0.4"/>
<path d="M373.5 729.5L374.5 730.1" stroke="#8f1737" stroke-width="0.9" fill="none" stroke-linecap="butt" opacity="0.4"/>
<path d="M374.5 730.1L375.6 730.4L376.7 730.4L377.9 730.2" stroke="#3d1820" stroke-width="2.0" fill="none" stroke-linecap="butt" opacity="0.6"/>
<path d="M374.5 730.1L375.6 730.4L376.7 730.4L377.9 730.2" stroke="#8f1737" stroke-width="0.9" fill="none" stroke-linecap="butt" opacity="0.6"/>
<path d="M377.9 730.2L379.1 729.8L380.3 729.2L381.4 728.6" stroke="#3d1820" stroke-width="2.0" fill="none" stroke-linecap="butt" opacity="0.8"/>
<path d="M377.9 730.2L379.1 729.8L380.3 729.2L381.4 728.6" stroke="#8f1737" stroke-width="0.9" fill="none" stroke-linecap="butt" opacity="0.8"/>
<path d="M381.4 728.6L382.6 727.9L383.7 727.2L384.7 726.5L385.6 726.0L386.4 725.5L387.1 725.2L387.6 725.0L388.3 725.1" stroke="#3d1820" stroke-width="2.0" fill="none" stroke-linecap="butt"/>
<path d="M381.4 728.6L382.6 727.9L383.7 727.2L384.7 726.5L385.6 726.0L386.4 725.5L387.1 725.2L387.6 725.0L388.3 725.1" stroke="#8f1737" stroke-width="0.9" fill="none" stroke-linecap="butt"/>
<path d="M395.2 737.1L395.9 737.5L396.9 737.8L398.0 737.9L399.4 738.0L400.7 737.8L402.1 737.3L403.2 736.5L403.9 735.6L404.6 734.6L404.9 733.6L405.4 732.8L405.7 732.1L406.2 731.6L406.6 731.4" stroke="#3d1820" stroke-width="2.0" fill="none" stroke-linecap="butt"/>
<path d="M395.2 737.1L395.9 737.5L396.9 737.8L398.0 737.9L399.4 738.0L400.7 737.8L402.1 737.3L403.2 736.5L403.9 735.6L404.6 734.6L404.9 733.6L405.4 732.8L405.7 732.1L406.2 731.6L406.6 731.4" stroke="#8f1737" stroke-width="0.9" fill="none" stroke-linecap="butt"/>
<path d="M421.7 731.3L422.0 730.5L422.1 729.6L422.1 728.7L421.9 727.6L421.6 726.4L421.3 725.2L421.1 723.9L420.9 722.6L420.9 721.2L421.2 719.9L421.7 718.6L422.3 717.6L423.3 716.8L424.2 716.2L425.1 716.0" stroke="#3d1820" stroke-width="2.0" fill="none" stroke-linecap="butt"/>
<path d="M421.7 731.3L422.0 730.5L422.1 729.6L422.1 728.7L421.9 727.6L421.6 726.4L421.3 725.2L421.1 723.9L420.9 722.6L420.9 721.2L421.2 719.9L421.7 718.6L422.3 717.6L423.3 716.8L424.2 716.2L425.1 716.0" stroke="#8f1737" stroke-width="0.9" fill="none" stroke-linecap="butt"/>
<path d="M440.1 719.0L440.7 718.1L441.0 717.2L441.0 716.1L440.9 714.9L440.6 713.7L440.2 712.5L439.7 711.2L439.1 710.0L438.5 708.9L437.9 707.8L437.4 706.9L436.9 706.2L436.5 705.8L436.4 705.2L436.4 704.5" stroke="#3d1820" stroke-width="2.0" fill="none" stroke-linecap="butt"/>
<path d="M440.1 719.0L440.7 718.1L441.0 717.2L441.0 716.1L440.9 714.9L440.6 713.7L440.2 712.5L439.7 711.2L439.1 710.0L438.5 708.9L437.9 707.8L437.4 706.9L436.9 706.2L436.5 705.8L436.4 705.2L436.4 704.5" stroke="#8f1737" stroke-width="0.9" fill="none" stroke-linecap="butt"/>
<path d="M448.7 697.5L449.0 696.8L449.1 696.0L449.2 695.0L449.2 693.9L449.2 692.7L449.2 691.4L449.1 690.0L449.2 688.7L449.2 687.4L449.4 686.2L449.7 685.1L450.1 684.2L450.6 683.5L451.2 682.9" stroke="#3d1820" stroke-width="2.0" fill="none" stroke-linecap="butt"/>
<path d="M448.7 697.5L449.0 696.8L449.1 696.0L449.2 695.0L449.2 693.9L449.2 692.7L449.2 691.4L449.1 690.0L449.2 688.7L449.2 687.4L449.4 686.2L449.7 685.1L450.1 684.2L450.6 683.5L451.2 682.9" stroke="#8f1737" stroke-width="0.9" fill="none" stroke-linecap="butt"/>
<path d="M466.4 686.0L467.1 685.6L467.6 684.9L468.1 684.0L468.6 683.0L469.0 681.8L469.4 680.6L469.7 679.3L470.0 678.0L470.4 676.8L470.7 675.6L471.1 674.6L471.4 673.8L471.8 673.1L472.4 672.6L473.1 672.3" stroke="#3d1820" stroke-width="2.0" fill="none" stroke-linecap="butt"/>
<path d="M466.4 686.0L467.1 685.6L467.6 684.9L468.1 684.0L468.6 683.0L469.0 681.8L469.4 680.6L469.7 679.3L470.0 678.0L470.4 676.8L470.7 675.6L471.1 674.6L471.4 673.8L471.8 673.1L472.4 672.6L473.1 672.3" stroke="#8f1737" stroke-width="0.9" fill="none" stroke-linecap="butt"/>
<path d="M483.9 678.4L484.5 678.5L485.0 678.4L485.9 678.3L486.9 678.1L488.0 677.8L489.3 677.4L490.5 677.0L491.7 676.5L492.9 675.9L493.8 675.3L494.9 674.8L495.9 674.5L496.8 674.3L497.6 674.4L498.4 674.6" stroke="#3d1820" stroke-width="2.0" fill="none" stroke-linecap="butt"/>
<path d="M483.9 678.4L484.5 678.5L485.0 678.4L485.9 678.3L486.9 678.1L488.0 677.8L489.3 677.4L490.5 677.0L491.7 676.5L492.9 675.9L493.8 675.3L494.9 674.8L495.9 674.5L496.8 674.3L497.6 674.4L498.4 674.6" stroke="#8f1737" stroke-width="0.9" fill="none" stroke-linecap="butt"/>
<path d="M509.4 685.9L510.1 685.4L510.7 684.8L511.2 684.0L511.6 683.1L512.1 682.1L512.8 681.1L513.8 680.2L514.9 679.5L516.2 678.9L517.4 678.6L518.6 678.4L519.8 678.5L520.7 678.7L521.6 679.2" stroke="#3d1820" stroke-width="2.0" fill="none" stroke-linecap="butt"/>
<path d="M509.4 685.9L510.1 685.4L510.7 684.8L511.2 684.0L511.6 683.1L512.1 682.1L512.8 681.1L513.8 680.2L514.9 679.5L516.2 678.9L517.4 678.6L518.6 678.4L519.8 678.5L520.7 678.7L521.6 679.2" stroke="#8f1737" stroke-width="0.9" fill="none" stroke-linecap="butt"/>
<path d="M522.9 694.9L523.5 695.4L524.3 695.8L525.3 696.1L526.4 696.3L527.7 696.3L529.0 696.3L530.3 696.3L531.7 696.1L532.9 695.9L534.1 695.7L535.1 695.6L536.1 695.7L537.0 695.9L537.8 696.4L538.4 697.0" stroke="#3d1820" stroke-width="2.0" fill="none" stroke-linecap="butt"/>
<path d="M522.9 694.9L523.5 695.4L524.3 695.8L525.3 696.1L526.4 696.3L527.7 696.3L529.0 696.3L530.3 696.3L531.7 696.1L532.9 695.9L534.1 695.7L535.1 695.6L536.1 695.7L537.0 695.9L537.8 696.4L538.4 697.0" stroke="#8f1737" stroke-width="0.9" fill="none" stroke-linecap="butt"/>
<path d="M531.6 709.1L531.4 709.9L531.4 711.0L531.7 712.2L532.2 713.3L533.0 714.4L533.9 715.3L534.9 716.2L535.9 717.0L536.9 717.9L537.8 718.8L538.6 719.8L539.1 721.0L539.3 722.1L539.2 723.4L538.9 724.4" stroke="#3d1820" stroke-width="2.0" fill="none" stroke-linecap="butt"/>
<path d="M531.6 709.1L531.4 709.9L531.4 711.0L531.7 712.2L532.2 713.3L533.0 714.4L533.9 715.3L534.9 716.2L535.9 717.0L536.9 717.9L537.8 718.8L538.6 719.8L539.1 721.0L539.3 722.1L539.2 723.4L538.9 724.4" stroke="#8f1737" stroke-width="0.9" fill="none" stroke-linecap="butt"/>
<path d="M523.6 728.4L523.4 729.0L523.2 729.8L523.0 730.7L523.0 731.8L522.9 733.0L522.8 734.3L522.7 735.6L522.5 736.9L522.2 738.2L521.8 739.4L521.3 740.4L520.8 741.2L520.1 741.9L519.4 742.3L518.6 742.5" stroke="#3d1820" stroke-width="2.0" fill="none" stroke-linecap="butt"/>
<path d="M523.6 728.4L523.4 729.0L523.2 729.8L523.0 730.7L523.0 731.8L522.9 733.0L522.8 734.3L522.7 735.6L522.5 736.9L522.2 738.2L521.8 739.4L521.3 740.4L520.8 741.2L520.1 741.9L519.4 742.3L518.6 742.5" stroke="#8f1737" stroke-width="0.9" fill="none" stroke-linecap="butt"/>
<path d="M504.6 738.2L504.1 738.6L503.6 739.2L503.3 739.9L502.9 740.8L502.4 741.9L501.9 742.9L501.1 744.0L500.2 745.0L499.2 745.9L498.1 746.6L496.9 747.1L495.9 747.4L494.9 747.5L494.1 747.5L493.4 747.2" stroke="#3d1820" stroke-width="2.0" fill="none" stroke-linecap="butt"/>
<path d="M504.6 738.2L504.1 738.6L503.6 739.2L503.3 739.9L502.9 740.8L502.4 741.9L501.9 742.9L501.1 744.0L500.2 745.0L499.2 745.9L498.1 746.6L496.9 747.1L495.9 747.4L494.9 747.5L494.1 747.5L493.4 747.2" stroke="#8f1737" stroke-width="0.9" fill="none" stroke-linecap="butt"/>
<path d="M482.7 737.4L482.3 737.7L481.7 738.3L481.3 739.0L480.5 739.7L479.7 740.5L478.6 741.2L477.4 741.8L476.1 742.3L474.9 742.7L473.7 742.9L472.5 742.9L471.5 742.8L470.7 742.5L470.0 742.1" stroke="#3d1820" stroke-width="2.0" fill="none" stroke-linecap="butt"/>
<path d="M482.7 737.4L482.3 737.7L481.7 738.3L481.3 739.0L480.5 739.7L479.7 740.5L478.6 741.2L477.4 741.8L476.1 742.3L474.9 742.7L473.7 742.9L472.5 742.9L471.5 742.8L470.7 742.5L470.0 742.1" stroke="#8f1737" stroke-width="0.9" fill="none" stroke-linecap="butt"/>
<path d="M465.4 727.4L464.5 727.2L463.6 727.2L462.5 727.4L461.4 727.7L460.2 728.1L459.0 728.7L457.8 729.3L456.7 729.9L455.6 730.5L454.5 731.0L453.5 731.4L452.5 731.6L451.6 731.5L450.6 731.2L449.7 730.6" stroke="#3d1820" stroke-width="2.0" fill="none" stroke-linecap="butt"/>
<path d="M465.4 727.4L464.5 727.2L463.6 727.2L462.5 727.4L461.4 727.7L460.2 728.1L459.0 728.7L457.8 729.3L456.7 729.9L455.6 730.5L454.5 731.0L453.5 731.4L452.5 731.6L451.6 731.5L450.6 731.2L449.7 730.6" stroke="#8f1737" stroke-width="0.9" fill="none" stroke-linecap="butt"/>
<path d="M374.9 723.0L376.2 722.9L377.4 722.8L378.4 722.7" stroke="#3d1820" stroke-width="2.0" fill="none" stroke-linecap="butt" opacity="0.2"/>
<path d="M374.9 723.0L376.2 722.9L377.4 722.8L378.4 722.7" stroke="#8f1737" stroke-width="0.9" fill="none" stroke-linecap="butt" opacity="0.2"/>
<path d="M378.4 722.7L379.2 722.5L379.9 722.3" stroke="#3d1820" stroke-width="2.0" fill="none" stroke-linecap="butt" opacity="0.4"/>
<path d="M378.4 722.7L379.2 722.5L379.9 722.3" stroke="#8f1737" stroke-width="0.9" fill="none" stroke-linecap="butt" opacity="0.4"/>
<path d="M379.9 722.3L380.5 722.3L381.1 722.6" stroke="#3d1820" stroke-width="2.0" fill="none" stroke-linecap="butt" opacity="0.6"/>
<path d="M379.9 722.3L380.5 722.3L381.1 722.6" stroke="#8f1737" stroke-width="0.9" fill="none" stroke-linecap="butt" opacity="0.6"/>
<path d="M389.7 735.2L390.5 735.0L391.2 734.7L392.0 734.1L392.7 733.4L393.6 732.7L394.5 731.8L395.6 731.1L396.9 730.6L398.3 730.3L399.6 730.2L400.8 730.4L401.9 730.6L402.7 730.9L403.3 731.3L403.7 731.8" stroke="#3d1820" stroke-width="2.0" fill="none" stroke-linecap="butt"/>
<path d="M389.7 735.2L390.5 735.0L391.2 734.7L392.0 734.1L392.7 733.4L393.6 732.7L394.5 731.8L395.6 731.1L396.9 730.6L398.3 730.3L399.6 730.2L400.8 730.4L401.9 730.6L402.7 730.9L403.3 731.3L403.7 731.8" stroke="#8f1737" stroke-width="0.9" fill="none" stroke-linecap="butt"/>
<path d="M413.2 739.2L413.9 738.6L414.5 737.8L415.0 736.8L415.3 735.7L415.5 734.4L415.6 733.0L415.4 731.7L415.1 730.4L414.8 729.1L414.5 728.0L414.3 726.9L414.2 725.9L414.3 724.9L414.6 724.1L415.1 723.4" stroke="#3d1820" stroke-width="2.0" fill="none" stroke-linecap="butt"/>
<path d="M413.2 739.2L413.9 738.6L414.5 737.8L415.0 736.8L415.3 735.7L415.5 734.4L415.6 733.0L415.4 731.7L415.1 730.4L414.8 729.1L414.5 728.0L414.3 726.9L414.2 725.9L414.3 724.9L414.6 724.1L415.1 723.4" stroke="#8f1737" stroke-width="0.9" fill="none" stroke-linecap="butt"/>
<path d="M430.1 724.9L430.8 724.4L431.6 723.6L432.3 722.7L432.8 721.6L433.4 720.3L433.7 719.0L433.7 717.6L433.6 716.3L433.5 715.1L433.3 714.1L433.2 713.1L433.2 712.4L433.3 711.6L433.6 711.0" stroke="#3d1820" stroke-width="2.0" fill="none" stroke-linecap="butt"/>
<path d="M430.1 724.9L430.8 724.4L431.6 723.6L432.3 722.7L432.8 721.6L433.4 720.3L433.7 719.0L433.7 717.6L433.6 716.3L433.5 715.1L433.3 714.1L433.2 713.1L433.2 712.4L433.3 711.6L433.6 711.0" stroke="#8f1737" stroke-width="0.9" fill="none" stroke-linecap="butt"/>
<path d="M446.5 703.0L446.4 702.3L446.0 701.6L445.5 700.9L444.8 700.2L444.1 699.3L443.4 698.3L442.7 697.2L442.2 695.9L441.9 694.5L441.7 693.3L441.8 692.0L442.0 690.9L442.4 690.0L442.9 689.2L443.7 688.6" stroke="#3d1820" stroke-width="2.0" fill="none" stroke-linecap="butt"/>
<path d="M446.5 703.0L446.4 702.3L446.0 701.6L445.5 700.9L444.8 700.2L444.1 699.3L443.4 698.3L442.7 697.2L442.2 695.9L441.9 694.5L441.7 693.3L441.8 692.0L442.0 690.9L442.4 690.0L442.9 689.2L443.7 688.6" stroke="#8f1737" stroke-width="0.9" fill="none" stroke-linecap="butt"/>
<path d="M458.6 690.1L459.2 689.5L459.7 688.8L460.0 688.0L460.3 686.9L460.5 685.8L460.7 684.6L461.0 683.3L461.2 682.0L461.6 680.7L461.9 679.5L462.4 678.4L462.9 677.5L463.5 676.8L464.2 676.2L464.9 675.9" stroke="#3d1820" stroke-width="2.0" fill="none" stroke-linecap="butt"/>
<path d="M458.6 690.1L459.2 689.5L459.7 688.8L460.0 688.0L460.3 686.9L460.5 685.8L460.7 684.6L461.0 683.3L461.2 682.0L461.6 680.7L461.9 679.5L462.4 678.4L462.9 677.5L463.5 676.8L464.2 676.2L464.9 675.9" stroke="#8f1737" stroke-width="0.9" fill="none" stroke-linecap="butt"/>
<path d="M480.0 679.7L480.5 679.1L480.9 678.3L481.2 677.4L481.4 676.4L481.7 675.3L482.1 674.1L482.7 672.9L483.6 671.8L484.7 670.9L486.1 670.3L487.5 670.1L488.7 670.0L489.8 670.3L490.7 670.7" stroke="#3d1820" stroke-width="2.0" fill="none" stroke-linecap="butt"/>
<path d="M480.0 679.7L480.5 679.1L480.9 678.3L481.2 677.4L481.4 676.4L481.7 675.3L482.1 674.1L482.7 672.9L483.6 671.8L484.7 670.9L486.1 670.3L487.5 670.1L488.7 670.0L489.8 670.3L490.7 670.7" stroke="#8f1737" stroke-width="0.9" fill="none" stroke-linecap="butt"/>
<path d="M497.1 684.8L498.0 684.9L499.0 684.8L500.1 684.4L501.2 683.9L502.2 683.2L503.2 682.4L504.2 681.4L505.0 680.4L505.6 679.4L506.1 678.4L506.6 677.5L507.1 676.8L507.8 676.2L508.5 675.8L509.6 675.7" stroke="#3d1820" stroke-width="2.0" fill="none" stroke-linecap="butt"/>
<path d="M497.1 684.8L498.0 684.9L499.0 684.8L500.1 684.4L501.2 683.9L502.2 683.2L503.2 682.4L504.2 681.4L505.0 680.4L505.6 679.4L506.1 678.4L506.6 677.5L507.1 676.8L507.8 676.2L508.5 675.8L509.6 675.7" stroke="#8f1737" stroke-width="0.9" fill="none" stroke-linecap="butt"/>
<path d="M517.2 688.5L517.8 688.9L518.6 689.1L519.4 689.1L520.5 689.1L521.6 689.1L522.8 689.0L524.2 688.9L525.5 688.9L526.8 688.9L528.1 688.9L529.2 689.1L530.2 689.3L531.1 689.7L531.7 690.1L532.2 690.7" stroke="#3d1820" stroke-width="2.0" fill="none" stroke-linecap="butt"/>
<path d="M517.2 688.5L517.8 688.9L518.6 689.1L519.4 689.1L520.5 689.1L521.6 689.1L522.8 689.0L524.2 688.9L525.5 688.9L526.8 688.9L528.1 688.9L529.2 689.1L530.2 689.3L531.1 689.7L531.7 690.1L532.2 690.7" stroke="#8f1737" stroke-width="0.9" fill="none" stroke-linecap="butt"/>
<path d="M532.6 705.1L533.1 705.4L533.5 705.2L534.2 705.1L535.1 705.3L536.0 706.0L536.9 706.8L537.8 707.8L538.5 708.9L539.2 710.1L539.7 711.1L540.1 712.1L540.4 713.0L540.5 713.6L540.5 714.1" stroke="#3d1820" stroke-width="2.0" fill="none" stroke-linecap="butt"/>
<path d="M532.6 705.1L533.1 705.4L533.5 705.2L534.2 705.1L535.1 705.3L536.0 706.0L536.9 706.8L537.8 707.8L538.5 708.9L539.2 710.1L539.7 711.1L540.1 712.1L540.4 713.0L540.5 713.6L540.5 714.1" stroke="#8f1737" stroke-width="0.9" fill="none" stroke-linecap="butt"/>
<path d="M528.9 722.1L528.7 722.7L528.7 723.5L528.8 724.4L529.0 725.5L529.2 726.7L529.6 727.9L529.9 729.2L530.1 730.5L530.3 731.8L530.4 733.0L530.3 734.2L530.0 735.2L529.6 736.2L529.0 736.9L528.2 737.5" stroke="#3d1820" stroke-width="2.0" fill="none" stroke-linecap="butt"/>
<path d="M528.9 722.1L528.7 722.7L528.7 723.5L528.8 724.4L529.0 725.5L529.2 726.7L529.6 727.9L529.9 729.2L530.1 730.5L530.3 731.8L530.4 733.0L530.3 734.2L530.0 735.2L529.6 736.2L529.0 736.9L528.2 737.5" stroke="#8f1737" stroke-width="0.9" fill="none" stroke-linecap="butt"/>
<path d="M513.3 734.0L512.6 734.5L511.9 735.2L511.4 736.0L510.9 737.1L510.6 738.2L510.3 739.5L510.0 740.8L509.8 742.1L509.5 743.4L509.2 744.6L508.8 745.7L508.2 746.7L507.5 747.5L506.7 748.0L505.6 748.4" stroke="#3d1820" stroke-width="2.0" fill="none" stroke-linecap="butt"/>
<path d="M513.3 734.0L512.6 734.5L511.9 735.2L511.4 736.0L510.9 737.1L510.6 738.2L510.3 739.5L510.0 740.8L509.8 742.1L509.5 743.4L509.2 744.6L508.8 745.7L508.2 746.7L507.5 747.5L506.7 748.0L505.6 748.4" stroke="#8f1737" stroke-width="0.9" fill="none" stroke-linecap="butt"/>
<path d="M493.8 737.0L492.6 737.0L491.6 737.4L490.3 738.0L489.4 738.8L488.5 739.8L487.8 741.0L487.1 742.1L486.5 743.3L485.9 744.4L485.2 745.4L484.4 746.2L483.5 746.8L482.3 747.2L481.3 747.3" stroke="#3d1820" stroke-width="2.0" fill="none" stroke-linecap="butt"/>
<path d="M493.8 737.0L492.6 737.0L491.6 737.4L490.3 738.0L489.4 738.8L488.5 739.8L487.8 741.0L487.1 742.1L486.5 743.3L485.9 744.4L485.2 745.4L484.4 746.2L483.5 746.8L482.3 747.2L481.3 747.3" stroke="#8f1737" stroke-width="0.9" fill="none" stroke-linecap="butt"/>
<path d="M474.0 732.6L473.2 732.2L472.1 732.0L471.0 732.1L469.9 732.4L468.8 732.7L467.6 733.2L466.3 733.7L465.1 734.2L463.9 734.7L462.8 735.1L461.7 735.4L460.7 735.5L459.8 735.4L459.1 735.2L458.4 734.8" stroke="#3d1820" stroke-width="2.0" fill="none" stroke-linecap="butt"/>
<path d="M474.0 732.6L473.2 732.2L472.1 732.0L471.0 732.1L469.9 732.4L468.8 732.7L467.6 733.2L466.3 733.7L465.1 734.2L463.9 734.7L462.8 735.1L461.7 735.4L460.7 735.5L459.8 735.4L459.1 735.2L458.4 734.8" stroke="#8f1737" stroke-width="0.9" fill="none" stroke-linecap="butt"/>
<path d="M453.8 721.5L453.3 721.3" stroke="#3d1820" stroke-width="2.0" fill="none" stroke-linecap="butt" opacity="0.8"/>
<path d="M453.8 721.5L453.3 721.3" stroke="#8f1737" stroke-width="0.9" fill="none" stroke-linecap="butt" opacity="0.8"/>
<path d="M453.3 721.3L452.7 721.2L451.9 721.2L450.9 721.2" stroke="#3d1820" stroke-width="2.0" fill="none" stroke-linecap="butt" opacity="0.6"/>
<path d="M453.3 721.3L452.7 721.2L451.9 721.2L450.9 721.2" stroke="#8f1737" stroke-width="0.9" fill="none" stroke-linecap="butt" opacity="0.6"/>
<path d="M450.9 721.2L449.8 721.1L448.5 721.2" stroke="#3d1820" stroke-width="2.0" fill="none" stroke-linecap="butt" opacity="0.4"/>
<path d="M450.9 721.2L449.8 721.1L448.5 721.2" stroke="#8f1737" stroke-width="0.9" fill="none" stroke-linecap="butt" opacity="0.4"/>
<path d="M448.5 721.2L447.2 721.2L445.9 721.2L444.6 721.2" stroke="#3d1820" stroke-width="2.0" fill="none" stroke-linecap="butt" opacity="0.2"/>
<path d="M448.5 721.2L447.2 721.2L445.9 721.2L444.6 721.2" stroke="#8f1737" stroke-width="0.9" fill="none" stroke-linecap="butt" opacity="0.2"/>
<path d="M371.8 725.3L371.8 726.5L372.1 727.6L372.6 728.5" stroke="#451020" stroke-width="2.7" fill="none" stroke-linecap="butt" opacity="0.2"/>
<path d="M371.8 725.3L371.8 726.5L372.1 727.6L372.6 728.5" stroke="#b3173d" stroke-width="1.4" fill="none" stroke-linecap="butt" opacity="0.2"/>
<path d="M372.6 728.5L373.5 729.5" stroke="#451020" stroke-width="2.7" fill="none" stroke-linecap="butt" opacity="0.4"/>
<path d="M372.6 728.5L373.5 729.5" stroke="#b3173d" stroke-width="1.4" fill="none" stroke-linecap="butt" opacity="0.4"/>
<path d="M388.3 725.1L388.9 725.3L389.6 725.8L390.4 726.5L391.1 727.4L391.9 728.4L392.6 729.5L393.3 730.6L393.8 731.8L394.2 733.0L394.3 734.0L394.4 734.9L394.2 735.5L394.4 736.2L394.6 736.7L395.2 737.1" stroke="#451020" stroke-width="2.7" fill="none" stroke-linecap="butt"/>
<path d="M388.3 725.1L388.9 725.3L389.6 725.8L390.4 726.5L391.1 727.4L391.9 728.4L392.6 729.5L393.3 730.6L393.8 731.8L394.2 733.0L394.3 734.0L394.4 734.9L394.2 735.5L394.4 736.2L394.6 736.7L395.2 737.1" stroke="#b3173d" stroke-width="1.4" fill="none" stroke-linecap="butt"/>
<path d="M406.6 731.4L407.2 731.2L407.9 731.3L408.8 731.4L409.8 731.7L410.8 732.1L412.0 732.5L413.2 732.9L414.5 733.2L415.9 733.4L417.2 733.4L418.4 733.2L419.5 732.9L420.4 732.5L421.2 732.0L421.7 731.3" stroke="#451020" stroke-width="2.7" fill="none" stroke-linecap="butt"/>
<path d="M406.6 731.4L407.2 731.2L407.9 731.3L408.8 731.4L409.8 731.7L410.8 732.1L412.0 732.5L413.2 732.9L414.5 733.2L415.9 733.4L417.2 733.4L418.4 733.2L419.5 732.9L420.4 732.5L421.2 732.0L421.7 731.3" stroke="#b3173d" stroke-width="1.4" fill="none" stroke-linecap="butt"/>
<path d="M425.1 716.0L426.1 716.0L427.0 716.3L428.0 716.7L428.9 717.3L429.9 718.1L431.0 718.8L432.1 719.5L433.3 720.1L434.6 720.5L436.1 720.6L437.3 720.5L438.4 720.3L439.4 719.7L440.1 719.0" stroke="#451020" stroke-width="2.7" fill="none" stroke-linecap="butt"/>
<path d="M425.1 716.0L426.1 716.0L427.0 716.3L428.0 716.7L428.9 717.3L429.9 718.1L431.0 718.8L432.1 719.5L433.3 720.1L434.6 720.5L436.1 720.6L437.3 720.5L438.4 720.3L439.4 719.7L440.1 719.0" stroke="#b3173d" stroke-width="1.4" fill="none" stroke-linecap="butt"/>
<path d="M436.4 704.5L436.7 703.9L437.2 703.2L437.8 702.4L438.7 701.6L439.7 700.8L440.8 700.1L442.0 699.5L443.3 699.0L444.4 698.7L445.5 698.5L446.4 698.6L447.1 698.5L447.8 698.3L448.3 698.0L448.7 697.5" stroke="#451020" stroke-width="2.7" fill="none" stroke-linecap="butt"/>
<path d="M436.4 704.5L436.7 703.9L437.2 703.2L437.8 702.4L438.7 701.6L439.7 700.8L440.8 700.1L442.0 699.5L443.3 699.0L444.4 698.7L445.5 698.5L446.4 698.6L447.1 698.5L447.8 698.3L448.3 698.0L448.7 697.5" stroke="#b3173d" stroke-width="1.4" fill="none" stroke-linecap="butt"/>
<path d="M451.2 682.9L452.0 682.6L452.9 682.4L453.9 682.4L455.0 682.6L456.1 682.9L457.4 683.4L458.6 683.9L459.8 684.4L461.0 685.0L462.1 685.5L463.1 685.9L464.1 686.2L464.9 686.4L465.7 686.3L466.4 686.0" stroke="#451020" stroke-width="2.7" fill="none" stroke-linecap="butt"/>
<path d="M451.2 682.9L452.0 682.6L452.9 682.4L453.9 682.4L455.0 682.6L456.1 682.9L457.4 683.4L458.6 683.9L459.8 684.4L461.0 685.0L462.1 685.5L463.1 685.9L464.1 686.2L464.9 686.4L465.7 686.3L466.4 686.0" stroke="#b3173d" stroke-width="1.4" fill="none" stroke-linecap="butt"/>
<path d="M473.1 672.3L473.9 672.1L474.8 672.2L475.9 672.3L477.0 672.7L478.2 673.1L479.4 673.7L480.6 674.3L481.7 675.1L482.5 675.9L483.2 676.6L483.5 677.3L483.8 677.9L483.8 678.2L483.9 678.4" stroke="#451020" stroke-width="2.7" fill="none" stroke-linecap="butt"/>
<path d="M473.1 672.3L473.9 672.1L474.8 672.2L475.9 672.3L477.0 672.7L478.2 673.1L479.4 673.7L480.6 674.3L481.7 675.1L482.5 675.9L483.2 676.6L483.5 677.3L483.8 677.9L483.8 678.2L483.9 678.4" stroke="#b3173d" stroke-width="1.4" fill="none" stroke-linecap="butt"/>
<path d="M498.4 674.6L499.0 675.1L499.5 675.7L500.0 676.6L500.5 677.6L500.9 678.7L501.4 679.9L501.9 681.1L502.4 682.3L503.0 683.5L503.9 684.5L505.1 685.4L506.2 685.9L507.5 686.1L508.4 686.1L509.4 685.9" stroke="#451020" stroke-width="2.7" fill="none" stroke-linecap="butt"/>
<path d="M498.4 674.6L499.0 675.1L499.5 675.7L500.0 676.6L500.5 677.6L500.9 678.7L501.4 679.9L501.9 681.1L502.4 682.3L503.0 683.5L503.9 684.5L505.1 685.4L506.2 685.9L507.5 686.1L508.4 686.1L509.4 685.9" stroke="#b3173d" stroke-width="1.4" fill="none" stroke-linecap="butt"/>
<path d="M521.6 679.2L522.3 679.9L522.8 680.7L523.1 681.7L523.3 682.8L523.3 684.0L523.2 685.4L523.1 686.7L522.8 688.0L522.5 689.2L522.3 690.4L522.1 691.6L522.1 692.6L522.2 693.5L522.4 694.3L522.9 694.9" stroke="#451020" stroke-width="2.7" fill="none" stroke-linecap="butt"/>
<path d="M521.6 679.2L522.3 679.9L522.8 680.7L523.1 681.7L523.3 682.8L523.3 684.0L523.2 685.4L523.1 686.7L522.8 688.0L522.5 689.2L522.3 690.4L522.1 691.6L522.1 692.6L522.2 693.5L522.4 694.3L522.9 694.9" stroke="#b3173d" stroke-width="1.4" fill="none" stroke-linecap="butt"/>
<path d="M538.4 697.0L538.9 697.8L539.4 699.0L539.6 700.4L539.4 701.7L539.1 703.2L538.3 704.4L537.3 705.3L536.3 706.0L535.2 706.4L534.2 706.8L533.3 707.3L532.6 707.7L532.0 708.3L531.6 709.1" stroke="#451020" stroke-width="2.7" fill="none" stroke-linecap="butt"/>
<path d="M538.4 697.0L538.9 697.8L539.4 699.0L539.6 700.4L539.4 701.7L539.1 703.2L538.3 704.4L537.3 705.3L536.3 706.0L535.2 706.4L534.2 706.8L533.3 707.3L532.6 707.7L532.0 708.3L531.6 709.1" stroke="#b3173d" stroke-width="1.4" fill="none" stroke-linecap="butt"/>
<path d="M538.9 724.4L538.2 725.5L537.4 726.1L536.4 726.6L535.2 727.0L534.0 727.2L532.7 727.2L531.3 727.3L530.0 727.2L528.7 727.2L527.6 727.2L526.5 727.2L525.5 727.3L524.8 727.5L524.1 727.9L523.6 728.4" stroke="#451020" stroke-width="2.7" fill="none" stroke-linecap="butt"/>
<path d="M538.9 724.4L538.2 725.5L537.4 726.1L536.4 726.6L535.2 727.0L534.0 727.2L532.7 727.2L531.3 727.3L530.0 727.2L528.7 727.2L527.6 727.2L526.5 727.2L525.5 727.3L524.8 727.5L524.1 727.9L523.6 728.4" stroke="#b3173d" stroke-width="1.4" fill="none" stroke-linecap="butt"/>
<path d="M518.6 742.5L517.7 742.5L516.8 742.3L515.8 742.0L514.8 741.5L513.6 740.9L512.5 740.3L511.3 739.7L510.1 739.1L508.9 738.6L507.9 738.3L506.9 738.0L506.0 737.9L505.2 737.9L504.6 738.2" stroke="#451020" stroke-width="2.7" fill="none" stroke-linecap="butt"/>
<path d="M518.6 742.5L517.7 742.5L516.8 742.3L515.8 742.0L514.8 741.5L513.6 740.9L512.5 740.3L511.3 739.7L510.1 739.1L508.9 738.6L507.9 738.3L506.9 738.0L506.0 737.9L505.2 737.9L504.6 738.2" stroke="#b3173d" stroke-width="1.4" fill="none" stroke-linecap="butt"/>
<path d="M493.4 747.2L492.8 746.7L492.3 746.1L491.8 745.2L491.4 744.3L490.9 743.3L490.3 742.2L489.5 741.1L488.6 740.1L487.6 739.2L486.6 738.5L485.7 737.9L484.8 737.5L484.0 737.3L483.3 737.2L482.7 737.4" stroke="#451020" stroke-width="2.7" fill="none" stroke-linecap="butt"/>
<path d="M493.4 747.2L492.8 746.7L492.3 746.1L491.8 745.2L491.4 744.3L490.9 743.3L490.3 742.2L489.5 741.1L488.6 740.1L487.6 739.2L486.6 738.5L485.7 737.9L484.8 737.5L484.0 737.3L483.3 737.2L482.7 737.4" stroke="#b3173d" stroke-width="1.4" fill="none" stroke-linecap="butt"/>
<path d="M470.0 742.1L469.5 741.4L469.2 740.7L468.9 739.7L468.7 738.7L468.7 737.5L468.5 736.3L468.4 734.9L468.3 733.6L468.1 732.3L467.9 731.1L467.6 730.0L467.2 729.1L466.7 728.3L466.1 727.7L465.4 727.4" stroke="#451020" stroke-width="2.7" fill="none" stroke-linecap="butt"/>
<path d="M470.0 742.1L469.5 741.4L469.2 740.7L468.9 739.7L468.7 738.7L468.7 737.5L468.5 736.3L468.4 734.9L468.3 733.6L468.1 732.3L467.9 731.1L467.6 730.0L467.2 729.1L466.7 728.3L466.1 727.7L465.4 727.4" stroke="#b3173d" stroke-width="1.4" fill="none" stroke-linecap="butt"/>
<path d="M449.7 730.6L449.0 729.8L448.3 728.7L448.0 727.5" stroke="#451020" stroke-width="2.7" fill="none" stroke-linecap="butt" opacity="0.8"/>
<path d="M449.7 730.6L449.0 729.8L448.3 728.7L448.0 727.5" stroke="#b3173d" stroke-width="1.4" fill="none" stroke-linecap="butt" opacity="0.8"/>
<path d="M448.0 727.5L447.9 726.2L448.0 724.8L448.2 723.5" stroke="#451020" stroke-width="2.7" fill="none" stroke-linecap="butt" opacity="0.6"/>
<path d="M448.0 727.5L447.9 726.2L448.0 724.8L448.2 723.5" stroke="#b3173d" stroke-width="1.4" fill="none" stroke-linecap="butt" opacity="0.6"/>
<path d="M448.2 723.5L448.5 722.2L448.8 721.0" stroke="#451020" stroke-width="2.7" fill="none" stroke-linecap="butt" opacity="0.4"/>
<path d="M448.2 723.5L448.5 722.2L448.8 721.0" stroke="#b3173d" stroke-width="1.4" fill="none" stroke-linecap="butt" opacity="0.4"/>
<path d="M448.8 721.0L449.1 719.8L449.3 718.6L449.3 717.6" stroke="#451020" stroke-width="2.7" fill="none" stroke-linecap="butt" opacity="0.2"/>
<path d="M448.8 721.0L449.1 719.8L449.3 718.6L449.3 717.6" stroke="#b3173d" stroke-width="1.4" fill="none" stroke-linecap="butt" opacity="0.2"/>
<path d="M381.1 722.6L381.6 723.0" stroke="#451020" stroke-width="2.7" fill="none" stroke-linecap="butt" opacity="0.6"/>
<path d="M381.1 722.6L381.6 723.0" stroke="#b3173d" stroke-width="1.4" fill="none" stroke-linecap="butt" opacity="0.6"/>
<path d="M381.6 723.0L382.0 723.6L382.4 724.4L382.7 725.4" stroke="#451020" stroke-width="2.7" fill="none" stroke-linecap="butt" opacity="0.8"/>
<path d="M381.6 723.0L382.0 723.6L382.4 724.4L382.7 725.4" stroke="#b3173d" stroke-width="1.4" fill="none" stroke-linecap="butt" opacity="0.8"/>
<path d="M382.7 725.4L383.1 726.5L383.5 727.7L383.9 728.9L384.3 730.2L384.9 731.4L385.5 732.5L386.4 733.5L387.2 734.3L388.1 734.8L388.9 735.1L389.7 735.2" stroke="#451020" stroke-width="2.7" fill="none" stroke-linecap="butt"/>
<path d="M382.7 725.4L383.1 726.5L383.5 727.7L383.9 728.9L384.3 730.2L384.9 731.4L385.5 732.5L386.4 733.5L387.2 734.3L388.1 734.8L388.9 735.1L389.7 735.2" stroke="#b3173d" stroke-width="1.4" fill="none" stroke-linecap="butt"/>
<path d="M403.7 731.8L403.8 732.2L403.9 732.9L403.7 733.6L403.6 734.4L403.9 735.4L404.7 736.4L405.6 737.4L406.7 738.2L407.8 738.9L409.0 739.4L410.2 739.7L411.3 739.8L412.4 739.6L413.2 739.2" stroke="#451020" stroke-width="2.7" fill="none" stroke-linecap="butt"/>
<path d="M403.7 731.8L403.8 732.2L403.9 732.9L403.7 733.6L403.6 734.4L403.9 735.4L404.7 736.4L405.6 737.4L406.7 738.2L407.8 738.9L409.0 739.4L410.2 739.7L411.3 739.8L412.4 739.6L413.2 739.2" stroke="#b3173d" stroke-width="1.4" fill="none" stroke-linecap="butt"/>
<path d="M415.1 723.4L415.8 722.9L416.7 722.4L417.8 722.1L419.0 722.0L420.3 722.0L421.7 722.1L423.0 722.5L424.2 723.0L425.3 723.5L426.1 724.1L427.0 724.6L427.8 725.0L428.6 725.2L429.3 725.1L430.1 724.9" stroke="#451020" stroke-width="2.7" fill="none" stroke-linecap="butt"/>
<path d="M415.1 723.4L415.8 722.9L416.7 722.4L417.8 722.1L419.0 722.0L420.3 722.0L421.7 722.1L423.0 722.5L424.2 723.0L425.3 723.5L426.1 724.1L427.0 724.6L427.8 725.0L428.6 725.2L429.3 725.1L430.1 724.9" stroke="#b3173d" stroke-width="1.4" fill="none" stroke-linecap="butt"/>
<path d="M433.6 711.0L434.1 710.6L434.7 710.2L435.6 709.9L436.5 709.6L437.7 709.4L438.9 709.1L440.2 708.8L441.5 708.5L442.7 708.0L443.9 707.2L444.9 706.4L445.6 705.5L446.2 704.6L446.5 703.8L446.5 703.0" stroke="#451020" stroke-width="2.7" fill="none" stroke-linecap="butt"/>
<path d="M433.6 711.0L434.1 710.6L434.7 710.2L435.6 709.9L436.5 709.6L437.7 709.4L438.9 709.1L440.2 708.8L441.5 708.5L442.7 708.0L443.9 707.2L444.9 706.4L445.6 705.5L446.2 704.6L446.5 703.8L446.5 703.0" stroke="#b3173d" stroke-width="1.4" fill="none" stroke-linecap="butt"/>
<path d="M443.7 688.6L444.5 688.3L445.5 688.1L446.6 688.1L447.8 688.3L449.0 688.5L450.3 688.9L451.6 689.3L452.8 689.7L454.0 690.1L455.2 690.3L456.2 690.5L457.1 690.5L457.9 690.4L458.6 690.1" stroke="#451020" stroke-width="2.7" fill="none" stroke-linecap="butt"/>
<path d="M443.7 688.6L444.5 688.3L445.5 688.1L446.6 688.1L447.8 688.3L449.0 688.5L450.3 688.9L451.6 689.3L452.8 689.7L454.0 690.1L455.2 690.3L456.2 690.5L457.1 690.5L457.9 690.4L458.6 690.1" stroke="#b3173d" stroke-width="1.4" fill="none" stroke-linecap="butt"/>
<path d="M464.9 675.9L465.7 675.8L466.6 675.9L467.6 676.2L468.6 676.6L469.7 677.2L470.8 677.8L472.0 678.5L473.2 679.1L474.3 679.7L475.6 680.1L476.7 680.3L477.7 680.5L478.6 680.4L479.4 680.1L480.0 679.7" stroke="#451020" stroke-width="2.7" fill="none" stroke-linecap="butt"/>
<path d="M464.9 675.9L465.7 675.8L466.6 675.9L467.6 676.2L468.6 676.6L469.7 677.2L470.8 677.8L472.0 678.5L473.2 679.1L474.3 679.7L475.6 680.1L476.7 680.3L477.7 680.5L478.6 680.4L479.4 680.1L480.0 679.7" stroke="#b3173d" stroke-width="1.4" fill="none" stroke-linecap="butt"/>
<path d="M490.7 670.7L491.4 671.4L491.9 672.1L492.2 673.0L492.4 674.0L492.5 675.1L492.7 676.3L492.9 677.6L493.3 678.9L493.6 680.1L494.0 681.3L494.5 682.4L495.0 683.3L495.6 684.0L496.3 684.5L497.1 684.8" stroke="#451020" stroke-width="2.7" fill="none" stroke-linecap="butt"/>
<path d="M490.7 670.7L491.4 671.4L491.9 672.1L492.2 673.0L492.4 674.0L492.5 675.1L492.7 676.3L492.9 677.6L493.3 678.9L493.6 680.1L494.0 681.3L494.5 682.4L495.0 683.3L495.6 684.0L496.3 684.5L497.1 684.8" stroke="#b3173d" stroke-width="1.4" fill="none" stroke-linecap="butt"/>
<path d="M509.6 675.7L510.8 675.8L512.2 676.2L513.6 677.0L514.4 678.1L515.0 679.3L515.4 680.6L515.7 681.9L515.9 683.2L516.0 684.4L516.1 685.5L516.2 686.4L516.4 687.3L516.7 688.0L517.2 688.5" stroke="#451020" stroke-width="2.7" fill="none" stroke-linecap="butt"/>
<path d="M509.6 675.7L510.8 675.8L512.2 676.2L513.6 677.0L514.4 678.1L515.0 679.3L515.4 680.6L515.7 681.9L515.9 683.2L516.0 684.4L516.1 685.5L516.2 686.4L516.4 687.3L516.7 688.0L517.2 688.5" stroke="#b3173d" stroke-width="1.4" fill="none" stroke-linecap="butt"/>
<path d="M532.2 690.7L532.5 691.5L532.7 692.3L532.6 693.2L532.5 694.3L532.3 695.5L532.1 696.7L532.0 698.0L531.9 699.3L531.9 700.6L531.9 701.8L531.9 702.9L532.0 703.8L532.2 704.6L532.4 705.0L532.6 705.1" stroke="#451020" stroke-width="2.7" fill="none" stroke-linecap="butt"/>
<path d="M532.2 690.7L532.5 691.5L532.7 692.3L532.6 693.2L532.5 694.3L532.3 695.5L532.1 696.7L532.0 698.0L531.9 699.3L531.9 700.6L531.9 701.8L531.9 702.9L532.0 703.8L532.2 704.6L532.4 705.0L532.6 705.1" stroke="#b3173d" stroke-width="1.4" fill="none" stroke-linecap="butt"/>
<path d="M540.5 714.1L540.3 714.6L539.8 715.1L539.2 715.6L538.5 716.3L537.5 717.1L536.5 717.9L535.4 718.6L534.3 719.3L533.2 719.9L532.1 720.3L531.2 720.6L530.3 720.9L529.8 721.0L529.2 721.5L528.9 722.1" stroke="#451020" stroke-width="2.7" fill="none" stroke-linecap="butt"/>
<path d="M540.5 714.1L540.3 714.6L539.8 715.1L539.2 715.6L538.5 716.3L537.5 717.1L536.5 717.9L535.4 718.6L534.3 719.3L533.2 719.9L532.1 720.3L531.2 720.6L530.3 720.9L529.8 721.0L529.2 721.5L528.9 722.1" stroke="#b3173d" stroke-width="1.4" fill="none" stroke-linecap="butt"/>
<path d="M528.2 737.5L527.2 737.8L526.2 738.0L525.0 737.9L523.8 737.6L522.6 737.2L521.4 736.6L520.2 736.0L519.0 735.4L517.9 734.8L516.9 734.3L515.9 734.0L514.9 733.8L514.1 733.8L513.3 734.0" stroke="#451020" stroke-width="2.7" fill="none" stroke-linecap="butt"/>
<path d="M528.2 737.5L527.2 737.8L526.2 738.0L525.0 737.9L523.8 737.6L522.6 737.2L521.4 736.6L520.2 736.0L519.0 735.4L517.9 734.8L516.9 734.3L515.9 734.0L514.9 733.8L514.1 733.8L513.3 734.0" stroke="#b3173d" stroke-width="1.4" fill="none" stroke-linecap="butt"/>
<path d="M505.6 748.4L504.5 748.4L503.5 748.2L502.1 747.7L501.1 747.0L500.1 746.0L499.4 744.8L498.8 743.6L498.3 742.4L497.9 741.2L497.4 740.1L496.9 739.1L496.4 738.3L495.6 737.6L494.8 737.2L493.8 737.0" stroke="#451020" stroke-width="2.7" fill="none" stroke-linecap="butt"/>
<path d="M505.6 748.4L504.5 748.4L503.5 748.2L502.1 747.7L501.1 747.0L500.1 746.0L499.4 744.8L498.8 743.6L498.3 742.4L497.9 741.2L497.4 740.1L496.9 739.1L496.4 738.3L495.6 737.6L494.8 737.2L493.8 737.0" stroke="#b3173d" stroke-width="1.4" fill="none" stroke-linecap="butt"/>
<path d="M481.3 747.3L479.9 747.0L478.9 746.5L477.8 745.5L477.1 744.5L476.6 743.3L476.3 742.0L476.1 740.7L476.1 739.3L476.0 738.0L476.0 736.8L475.8 735.7L475.6 734.7L475.2 733.8L474.7 733.1L474.0 732.6" stroke="#451020" stroke-width="2.7" fill="none" stroke-linecap="butt"/>
<path d="M481.3 747.3L479.9 747.0L478.9 746.5L477.8 745.5L477.1 744.5L476.6 743.3L476.3 742.0L476.1 740.7L476.1 739.3L476.0 738.0L476.0 736.8L475.8 735.7L475.6 734.7L475.2 733.8L474.7 733.1L474.0 732.6" stroke="#b3173d" stroke-width="1.4" fill="none" stroke-linecap="butt"/>
<path d="M458.4 734.8L457.9 734.2L457.4 733.4L457.1 732.5L456.8 731.4L456.6 730.2L456.2 728.9L455.9 727.6L455.6 726.4L455.3 725.2L454.9 724.1L454.6 723.1L454.4 722.4" stroke="#451020" stroke-width="2.7" fill="none" stroke-linecap="butt"/>
<path d="M458.4 734.8L457.9 734.2L457.4 733.4L457.1 732.5L456.8 731.4L456.6 730.2L456.2 728.9L455.9 727.6L455.6 726.4L455.3 725.2L454.9 724.1L454.6 723.1L454.4 722.4" stroke="#b3173d" stroke-width="1.4" fill="none" stroke-linecap="butt"/>
<path d="M454.4 722.4L454.1 721.8L453.8 721.5" stroke="#451020" stroke-width="2.7" fill="none" stroke-linecap="butt" opacity="0.8"/>
<path d="M454.4 722.4L454.1 721.8L453.8 721.5" stroke="#b3173d" stroke-width="1.4" fill="none" stroke-linecap="butt" opacity="0.8"/>
</g>
<path d="M51.7 611.3H287.3" stroke="#000" stroke-width="4.6" stroke-dasharray="4.2 4.73" fill="none"/>
<path d="M60.8 820.7H288" stroke="#000" stroke-width="4.6" stroke-dasharray="4.2 4.73" fill="none"/>
<path d="M160.6 613V819" stroke="#000" stroke-width="4.8" fill="none"/>
<path d="M150.2 627L160.6 612.5L171 627M150.2 805L160.6 819.5L171 805" stroke="#000" stroke-width="4.6" fill="none" stroke-linecap="round" stroke-linejoin="miter"/>
<text x="315.5" y="355.3" font-size="31.8" text-anchor="middle" font-family="Liberation Sans, Arial, Helvetica, sans-serif" fill="#000" font-weight="normal" textLength="337" lengthAdjust="spacingAndGlyphs">Turns added by magnet</text>
<text x="434.2" y="633.5" font-size="31.4" text-anchor="middle" font-family="Liberation Sans, Arial, Helvetica, sans-serif" fill="#000" font-weight="normal" textLength="94" lengthAdjust="spacingAndGlyphs">topo II</text>
<text x="70.6" y="691.3" font-size="33.4" text-anchor="middle" font-family="Liberation Sans, Arial, Helvetica, sans-serif" fill="#000" font-weight="bold" textLength="127" lengthAdjust="spacingAndGlyphs">constant</text>
<text x="70.6" y="733.2" font-size="33.4" text-anchor="middle" font-family="Liberation Sans, Arial, Helvetica, sans-serif" fill="#000" font-weight="bold" textLength="142" lengthAdjust="spacingAndGlyphs">extension</text>
<g id="chart1">
<path d="M802.2 393.6 L830.0 383.5 L870.0 374.5 L910.0 365.5 L940.0 359.2 L966.7 353.3 L993.3 346.9 L1014.6 342.6 L1036.0 336.2 L1068.0 326.7 L1100.0 321.3 L1260.0 283.5 L1385.5 250.0 L1410.0 244.7 L1501.0 225.4" stroke="#c2c2c2" stroke-width="4.0" fill="none" stroke-linejoin="round" stroke-linecap="butt"/>
<path d="M802.2 393.6 L900.0 353.0 L950.0 337.0 L994.0 320.0 L1036.0 303.5 L1084.0 288.0 L1098.0 287.3 L1120.0 279.5 L1140.0 273.3 L1188.0 261.9 L1236.0 248.1 L1260.0 243.3 L1278.0 238.7 L1300.0 232.0 L1332.0 220.1 L1350.0 219.5 L1410.0 208.0 L1440.0 203.5 L1480.0 195.3 L1501.0 194.2" stroke="#bfe6ff" stroke-width="4.0" fill="none" stroke-linejoin="round" stroke-linecap="butt"/>
<path d="M802.2 393.6 L850.0 361.0 L900.0 334.0 L950.0 308.2 L968.0 298.4 L984.0 292.0 L1000.0 284.0 L1036.0 262.7 L1072.0 244.8 L1080.0 242.1 L1116.0 224.7 L1152.0 206.7 L1180.0 191.2 L1195.0 182.8 L1210.0 176.6 L1219.0 171.4 L1234.0 163.4 L1246.0 164.0 L1258.0 158.2 L1270.0 152.8 L1290.0 141.6 L1338.0 120.0 L1386.0 93.6 L1410.0 84.5 L1501.0 43.0" stroke="#00c8c8" stroke-width="4.0" fill="none" stroke-linejoin="round" stroke-linecap="butt"/>
<path d="M802.2 393.6 L1104.0 238.8 L1154.0 213.6 L1202.0 190.5 L1246.0 169.0 L1284.0 148.8 L1290.0 146.4 L1326.0 130.8 L1338.0 124.8 L1374.0 109.2 L1410.0 91.8 L1501.0 47.1" stroke="#505050" stroke-width="4.0" fill="none" stroke-linejoin="round" stroke-linecap="butt"/>
<path d="M802.2 393.6 L1051.5 265.7 L1104.0 238.5 L1140.0 221.1 L1176.0 203.1 L1212.0 185.2 L1236.0 174.4 L1266.0 160.8 L1302.0 145.2 L1330.0 139.3 L1360.0 124.2 L1390.0 111.5 L1410.0 104.4 L1420.0 97.5 L1434.0 96.2 L1501.0 60.3" stroke="#ff0000" stroke-width="4.0" fill="none" stroke-linejoin="round" stroke-linecap="butt"/>
<path d="M802.2 393.6 L845.0 369.5 L862.0 370.5 L1072.0 264.0 L1084.0 255.0 L1152.0 221.1 L1200.0 197.2 L1236.0 179.2 L1266.0 164.4 L1302.0 148.8 L1323.5 139.2 L1338.0 133.8 L1386.0 110.4 L1410.0 97.5 L1501.0 51.2" stroke="#b57be6" stroke-width="4.0" fill="none" stroke-linejoin="round" stroke-linecap="butt"/>
<path d="M802.2 393.6 L1110.0 241.5 L1130.0 231.6 L1142.0 225.6 L1151.0 223.5 L1160.0 220.8 L1178.0 211.8 L1205.0 199.0 L1213.0 194.0 L1224.0 190.0 L1248.0 178.6 L1260.0 174.4 L1290.0 160.8 L1326.0 142.8 L1362.0 122.4 L1410.0 100.0 L1501.0 55.0" stroke="#7d4f50" stroke-width="4.0" fill="none" stroke-linejoin="round" stroke-linecap="butt"/>
<path d="M802.2 393.6 L1054.0 274.7 L1080.0 261.3 L1096.0 254.3 L1164.0 224.2 L1190.0 213.5 L1220.0 199.5 L1236.0 192.6 L1266.0 181.1 L1308.0 164.4 L1338.0 152.4 L1374.0 138.0 L1410.0 122.4 L1501.0 80.0" stroke="#808080" stroke-width="4.0" fill="none" stroke-linejoin="round" stroke-linecap="butt"/>
<path d="M802.2 393.6 L950.0 323.0 L1000.0 300.0 L1024.0 285.5 L1042.0 279.5 L1079.0 280.1 L1100.7 270.0 L1122.0 260.1 L1176.0 240.3 L1212.0 224.7 L1242.0 209.1 L1266.0 198.0 L1302.0 178.7 L1328.3 169.7 L1362.0 154.8 L1410.0 132.0 L1501.0 88.2" stroke="#007800" stroke-width="4.0" fill="none" stroke-linejoin="round" stroke-linecap="butt"/>
<path d="M802.2 393.6 L860.0 362.0 L900.0 342.0 L950.0 315.0 L976.0 301.5 L984.0 299.0 L1000.0 291.2 L1040.0 272.0 L1080.0 253.5 L1098.0 245.1 L1113.6 245.7 L1140.0 230.7 L1176.0 212.7 L1206.0 199.0 L1260.0 199.6 L1302.0 199.7 L1318.7 190.1 L1330.7 190.7 L1374.0 168.0 L1410.0 150.0 L1501.0 106.3" stroke="#ff00ff" stroke-width="4.0" fill="none" stroke-linejoin="round" stroke-linecap="butt"/>
<path d="M802.2 393.6 L900.0 343.5 L936.0 320.7 L952.0 311.9 L964.0 307.1 L968.5 303.0 L988.0 304.7 L1000.0 296.8 L1024.0 283.0 L1060.0 261.5 L1080.0 251.1 L1093.2 245.7 L1105.2 237.3 L1128.0 211.5 L1140.0 197.2 L1170.0 167.2 L1188.0 149.2 L1200.0 139.6 L1210.7 130.0 L1320.5 27.0" stroke="#0000ff" stroke-width="4.0" fill="none" stroke-linejoin="round" stroke-linecap="butt"/>
<path d="M802.2 393.6 L880.0 361.0 L920.0 343.0 L950.0 329.0 L976.0 319.0 L1024.0 300.0 L1039.5 297.0 L1052.7 289.7 L1066.0 289.7 L1080.0 284.7 L1096.0 276.0 L1125.6 263.7 L1144.8 264.9 L1164.0 253.8 L1196.0 239.0 L1220.0 227.0 L1236.0 218.0 L1263.6 206.0 L1302.0 188.3 L1338.0 174.0 L1374.0 154.8 L1394.3 146.4 L1400.3 145.8 L1410.0 142.8 L1501.0 104.6" stroke="#ff8000" stroke-width="4.0" fill="none" stroke-linejoin="round" stroke-linecap="butt"/>
<path d="M802.2 393.6 L840.0 370.0 L845.0 369.5 L862.0 370.5 L880.0 364.0 L900.0 352.0 L920.0 342.0 L950.0 330.0 L988.0 309.0 L1024.0 295.0 L1060.0 278.3 L1096.0 260.3 L1128.0 242.7 L1176.0 222.3 L1220.0 201.5 L1231.0 195.5 L1240.0 196.5 L1252.0 190.2 L1270.0 181.6 L1314.0 157.2 L1350.0 139.2 L1374.0 129.6 L1410.0 112.8 L1501.0 72.6" stroke="#8000ff" stroke-width="4.0" fill="none" stroke-linejoin="round" stroke-linecap="butt"/>
<path d="M802.1 26.1V403.7M792.1 393.9H1501" stroke="#1a1a1a" stroke-width="2" fill="none"/>
<path d="M792.1 332.8H802.1M792.1 271.6H802.1M792.1 210.5H802.1M792.1 149.4H802.1M792.1 88.2H802.1M792.1 27.1H802.1M996.2 393.9V403.7M1190.3 393.9V403.7M1384.4 393.9V403.7" stroke="#1a1a1a" stroke-width="2" fill="none"/>
<text x="785.6" y="401.4" text-anchor="end" font-size="24" font-family="Liberation Sans, Arial, Helvetica, sans-serif" fill="#000" stroke="#000" stroke-width="0.3">0</text>
<text x="785.6" y="340.3" text-anchor="end" font-size="24" font-family="Liberation Sans, Arial, Helvetica, sans-serif" fill="#000" stroke="#000" stroke-width="0.3">1000</text>
<text x="785.6" y="279.1" text-anchor="end" font-size="24" font-family="Liberation Sans, Arial, Helvetica, sans-serif" fill="#000" stroke="#000" stroke-width="0.3">2000</text>
<text x="785.6" y="218.0" text-anchor="end" font-size="24" font-family="Liberation Sans, Arial, Helvetica, sans-serif" fill="#000" stroke="#000" stroke-width="0.3">3000</text>
<text x="785.6" y="156.9" text-anchor="end" font-size="24" font-family="Liberation Sans, Arial, Helvetica, sans-serif" fill="#000" stroke="#000" stroke-width="0.3">4000</text>
<text x="785.6" y="95.7" text-anchor="end" font-size="24" font-family="Liberation Sans, Arial, Helvetica, sans-serif" fill="#000" stroke="#000" stroke-width="0.3">5000</text>
<text x="785.6" y="34.6" text-anchor="end" font-size="24" font-family="Liberation Sans, Arial, Helvetica, sans-serif" fill="#000" stroke="#000" stroke-width="0.3">6000</text>
<text x="802.1" y="429.1" text-anchor="middle" font-size="24" font-family="Liberation Sans, Arial, Helvetica, sans-serif" fill="#000" stroke="#000" stroke-width="0.3">0</text>
<text x="996.2" y="429.1" text-anchor="middle" font-size="24" font-family="Liberation Sans, Arial, Helvetica, sans-serif" fill="#000" stroke="#000" stroke-width="0.3">500</text>
<text x="1190.3" y="429.1" text-anchor="middle" font-size="24" font-family="Liberation Sans, Arial, Helvetica, sans-serif" fill="#000" stroke="#000" stroke-width="0.3">1000</text>
<text x="1384.4" y="429.1" text-anchor="middle" font-size="24" font-family="Liberation Sans, Arial, Helvetica, sans-serif" fill="#000" stroke="#000" stroke-width="0.3">1500</text>
</g>
<g id="chart2">
<path d="M802.2 856.5 L842.0 843.9 L874.3 830.1 L896.0 825.9 L932.0 810.3 L956.0 804.3 L980.0 792.9 L1014.0 780.0 L1044.0 769.9 L1062.0 760.3 L1092.0 751.9 L1116.0 742.3 L1140.0 734.5 L1177.6 720.0 L1216.0 703.9 L1240.0 695.5 L1258.0 689.5 L1276.0 685.3 L1300.0 682.3 L1332.0 677.6 L1362.0 671.6 L1368.0 670.0 L1384.5 670.0 L1410.0 659.6 L1440.0 649.0 L1470.0 643.0 L1499.5 635.6" stroke="#000" stroke-width="4.0" fill="none" stroke-linejoin="round" stroke-linecap="butt"/>
<path d="M802.2 856.5 L824.0 843.0 L848.0 834.3 L896.0 817.5 L920.0 805.5 L956.0 788.7 L980.0 777.5 L986.4 774.1 L1032.0 753.7 L1068.0 737.5 L1104.0 719.5 L1140.0 703.9 L1162.0 693.1 L1186.0 681.1 L1201.5 675.7 L1216.0 675.7 L1252.0 660.5 L1276.0 649.0 L1300.0 639.4 L1353.0 613.0 L1410.0 587.5 L1447.6 572.5 L1470.0 562.0 L1499.5 547.0" stroke="#007800" stroke-width="4.0" fill="none" stroke-linejoin="round" stroke-linecap="butt"/>
<path d="M802.2 856.5 L824.0 840.3 L839.6 831.9 L850.4 830.7 L878.0 818.7 L908.0 803.1 L926.0 801.3 L980.0 776.7 L996.0 772.3 L1032.0 755.5 L1068.0 741.1 L1104.0 723.1 L1140.0 708.1 L1168.0 697.9 L1216.0 676.3 L1252.0 659.5 L1276.0 647.5 L1300.0 637.9 L1353.0 611.5 L1410.0 586.0 L1447.6 571.0 L1470.0 560.5 L1499.5 545.5" stroke="#ff0000" stroke-width="4.0" fill="none" stroke-linejoin="round" stroke-linecap="butt"/>
<path d="M802.2 856.5 L818.0 847.5 L854.0 828.3 L878.0 816.3 L902.0 800.7 L926.0 783.9 L947.5 770.8 L960.0 766.9 L996.0 748.3 L1026.0 732.7 L1038.0 725.5 L1045.0 723.4 L1062.0 723.7 L1074.0 715.9 L1092.0 705.1 L1104.0 700.3 L1140.0 680.6 L1168.0 664.3 L1216.0 642.7 L1249.5 625.4 L1257.9 625.4 L1275.9 616.4 L1309.5 598.8 L1327.5 585.3 L1365.0 566.5 L1402.5 550.0 L1422.0 539.5 L1434.8 534.3 L1461.8 534.6 L1499.5 514.8" stroke="#0000ff" stroke-width="4.0" fill="none" stroke-linejoin="round" stroke-linecap="butt"/>
<path d="M802.2 856.5 L824.0 850.5 L836.0 846.3 L872.0 829.5 L896.0 813.9 L908.0 804.9 L926.0 801.9 L938.0 793.5 L956.0 786.3 L970.3 785.1 L980.0 780.3 L1008.0 772.3 L1056.0 756.7 L1086.0 750.7 L1116.0 736.3 L1140.0 728.5 L1162.0 720.0 L1204.0 705.1 L1240.0 691.9 L1264.0 682.3 L1300.0 669.1 L1327.5 657.3 L1365.0 642.3 L1375.5 640.8 L1410.0 625.8 L1440.0 615.3 L1450.5 613.0 L1477.6 595.0 L1499.5 583.0" stroke="#8000ff" stroke-width="4.0" fill="none" stroke-linejoin="round" stroke-linecap="butt"/>
<path d="M802.1 488.8V866.5M792.1 856.7H1501" stroke="#1a1a1a" stroke-width="2" fill="none"/>
<path d="M792.1 795.6H802.1M792.1 734.4H802.1M792.1 673.2H802.1M792.1 612.1H802.1M792.1 551.0H802.1M792.1 489.8H802.1M996.2 856.7V866.5M1190.3 856.7V866.5M1384.4 856.7V866.5" stroke="#1a1a1a" stroke-width="2" fill="none"/>
<text x="785.6" y="864.2" text-anchor="end" font-size="24" font-family="Liberation Sans, Arial, Helvetica, sans-serif" fill="#000" stroke="#000" stroke-width="0.3">0</text>
<text x="785.6" y="803.1" text-anchor="end" font-size="24" font-family="Liberation Sans, Arial, Helvetica, sans-serif" fill="#000" stroke="#000" stroke-width="0.3">1000</text>
<text x="785.6" y="741.9" text-anchor="end" font-size="24" font-family="Liberation Sans, Arial, Helvetica, sans-serif" fill="#000" stroke="#000" stroke-width="0.3">2000</text>
<text x="785.6" y="680.8" text-anchor="end" font-size="24" font-family="Liberation Sans, Arial, Helvetica, sans-serif" fill="#000" stroke="#000" stroke-width="0.3">3000</text>
<text x="785.6" y="619.6" text-anchor="end" font-size="24" font-family="Liberation Sans, Arial, Helvetica, sans-serif" fill="#000" stroke="#000" stroke-width="0.3">4000</text>
<text x="785.6" y="558.5" text-anchor="end" font-size="24" font-family="Liberation Sans, Arial, Helvetica, sans-serif" fill="#000" stroke="#000" stroke-width="0.3">5000</text>
<text x="785.6" y="497.3" text-anchor="end" font-size="24" font-family="Liberation Sans, Arial, Helvetica, sans-serif" fill="#000" stroke="#000" stroke-width="0.3">6000</text>
<text x="802.1" y="891.9" text-anchor="middle" font-size="24" font-family="Liberation Sans, Arial, Helvetica, sans-serif" fill="#000" stroke="#000" stroke-width="0.3">0</text>
<text x="996.2" y="891.9" text-anchor="middle" font-size="24" font-family="Liberation Sans, Arial, Helvetica, sans-serif" fill="#000" stroke="#000" stroke-width="0.3">500</text>
<text x="1190.3" y="891.9" text-anchor="middle" font-size="24" font-family="Liberation Sans, Arial, Helvetica, sans-serif" fill="#000" stroke="#000" stroke-width="0.3">1000</text>
<text x="1384.4" y="891.9" text-anchor="middle" font-size="24" font-family="Liberation Sans, Arial, Helvetica, sans-serif" fill="#000" stroke="#000" stroke-width="0.3">1500</text>
</g>
<g id="chart3">
<path d="M802.3 1321.6 L834.6 1310.6 L858.0 1302.5 L868.0 1302.0 L880.0 1296.0 L900.0 1287.5 L940.0 1269.5 L1004.0 1244.0 L1036.0 1229.2 L1068.0 1217.4 L1086.6 1210.6 L1113.2 1198.6 L1137.2 1184.6 L1160.0 1173.1 L1198.6 1153.8 L1230.8 1142.2 L1250.0 1134.5 L1275.8 1125.5 L1295.1 1119.1 L1314.4 1107.5 L1340.0 1097.8 L1367.5 1086.3 L1428.6 1060.5 L1462.6 1045.5 L1500.0 1031.3" stroke="#000" stroke-width="4.0" fill="none" stroke-linejoin="round" stroke-linecap="butt"/>
<path d="M802.3 1321.6 L834.6 1311.5 L900.0 1289.5 L933.2 1277.3 L982.6 1258.9 L1025.3 1241.8 L1057.3 1229.0 L1073.2 1220.5 L1086.6 1214.6 L1113.2 1205.2 L1139.9 1189.2 L1160.0 1177.6 L1198.6 1155.7 L1224.3 1143.5 L1243.6 1129.4 L1269.4 1117.8 L1288.7 1104.9 L1314.4 1090.8 L1340.0 1079.2 L1360.7 1067.3 L1401.5 1048.3 L1421.8 1038.8 L1442.2 1018.4 L1455.8 1010.9 L1472.1 1006.8 L1500.0 985.8" stroke="#ff0000" stroke-width="4.0" fill="none" stroke-linejoin="round" stroke-linecap="butt"/>
<path d="M802.3 1321.6 L834.6 1309.8 L870.0 1295.0 L906.6 1281.3 L940.0 1268.5 L1004.0 1245.0 L1036.0 1230.1 L1068.0 1218.4 L1086.6 1211.9 L1113.2 1200.6 L1153.2 1184.6 L1189.6 1169.9 L1224.3 1157.7 L1256.5 1143.5 L1273.2 1137.9 L1500.0 1137.9" stroke="#007800" stroke-width="4.0" fill="none" stroke-linejoin="round" stroke-linecap="butt"/>
<path d="M807.0 1321.3 L834.6 1310.6 L870.6 1296.6 L878.0 1297.0 L900.0 1287.9 L940.0 1270.6 L1002.9 1247.2 L1032.7 1248.2 L1057.3 1237.6 L1078.6 1230.6 L1099.9 1223.5 L1139.9 1206.6 L1166.5 1197.2 L1211.5 1179.5 L1262.9 1160.9 L1295.1 1149.3 L1320.0 1141.9 L1347.2 1130.4 L1387.9 1110.7 L1428.6 1093.7 L1467.3 1079.2 L1500.0 1079.2" stroke="#0000ff" stroke-width="4.0" fill="none" stroke-linejoin="round" stroke-linecap="butt"/>
<path d="M802.3 1321.6 L840.0 1301.2 L866.6 1287.9 L900.0 1271.9 L933.2 1258.6 L975.2 1238.6 L982.6 1237.6 L1009.3 1222.6 L1036.0 1212.0 L1052.0 1201.3 L1070.0 1192.8 L1077.5 1192.8 L1106.6 1174.6 L1139.9 1161.3 L1160.0 1152.5 L1211.5 1128.1 L1266.8 1102.3 L1275.8 1100.4 L1308.0 1081.8 L1340.0 1067.6 L1360.7 1057.8 L1401.5 1040.1 L1435.4 1025.2 L1469.4 1006.2 L1500.0 992.6" stroke="#8000ff" stroke-width="4.0" fill="none" stroke-linejoin="round" stroke-linecap="butt"/>
<path d="M802.1 953.8V1331.5M792.1 1321.7H1501" stroke="#1a1a1a" stroke-width="2" fill="none"/>
<path d="M792.1 1260.5H802.1M792.1 1199.4H802.1M792.1 1138.2H802.1M792.1 1077.1H802.1M792.1 1016.0H802.1M792.1 954.8H802.1M996.2 1321.7V1331.5M1190.3 1321.7V1331.5M1384.4 1321.7V1331.5" stroke="#1a1a1a" stroke-width="2" fill="none"/>
<text x="785.6" y="1329.2" text-anchor="end" font-size="24" font-family="Liberation Sans, Arial, Helvetica, sans-serif" fill="#000" stroke="#000" stroke-width="0.3">0</text>
<text x="785.6" y="1268.0" text-anchor="end" font-size="24" font-family="Liberation Sans, Arial, Helvetica, sans-serif" fill="#000" stroke="#000" stroke-width="0.3">1000</text>
<text x="785.6" y="1206.9" text-anchor="end" font-size="24" font-family="Liberation Sans, Arial, Helvetica, sans-serif" fill="#000" stroke="#000" stroke-width="0.3">2000</text>
<text x="785.6" y="1145.8" text-anchor="end" font-size="24" font-family="Liberation Sans, Arial, Helvetica, sans-serif" fill="#000" stroke="#000" stroke-width="0.3">3000</text>
<text x="785.6" y="1084.6" text-anchor="end" font-size="24" font-family="Liberation Sans, Arial, Helvetica, sans-serif" fill="#000" stroke="#000" stroke-width="0.3">4000</text>
<text x="785.6" y="1023.5" text-anchor="end" font-size="24" font-family="Liberation Sans, Arial, Helvetica, sans-serif" fill="#000" stroke="#000" stroke-width="0.3">5000</text>
<text x="785.6" y="962.3" text-anchor="end" font-size="24" font-family="Liberation Sans, Arial, Helvetica, sans-serif" fill="#000" stroke="#000" stroke-width="0.3">6000</text>
<text x="802.1" y="1356.9" text-anchor="middle" font-size="24" font-family="Liberation Sans, Arial, Helvetica, sans-serif" fill="#000" stroke="#000" stroke-width="0.3">0</text>
<text x="996.2" y="1356.9" text-anchor="middle" font-size="24" font-family="Liberation Sans, Arial, Helvetica, sans-serif" fill="#000" stroke="#000" stroke-width="0.3">500</text>
<text x="1190.3" y="1356.9" text-anchor="middle" font-size="24" font-family="Liberation Sans, Arial, Helvetica, sans-serif" fill="#000" stroke="#000" stroke-width="0.3">1000</text>
<text x="1384.4" y="1356.9" text-anchor="middle" font-size="24" font-family="Liberation Sans, Arial, Helvetica, sans-serif" fill="#000" stroke="#000" stroke-width="0.3">1500</text>
</g>
<path d="M837.8 310.0H842.8V337.8L849.6 333.8L840.3 352.2L831.0 333.8L837.8 337.8Z" fill="#b48ce0"/>
<path d="M961.3 246.0H966.2V274.0L973.1 270.0L963.8 288.4L954.5 270.0L961.3 274.0Z" fill="#0000ff"/>
<path d="M1033.8 211.8H1038.8V239.2L1045.6 235.2L1036.3 253.6L1027.0 235.2L1033.8 239.2Z" fill="#0a8a0a"/>
<path d="M1090.8 183.5H1095.8V211.3L1102.6 207.3L1093.3 225.7L1084.0 207.3L1090.8 211.3Z" fill="#ff3fd0"/>
<path d="M1119.9 166.0H1124.8V194.5L1131.7 190.5L1122.4 208.9L1113.1 190.5L1119.9 194.5Z" fill="#f2914a"/>
<path d="M1035.3 672.2H1040.2V701.3L1047.1 697.3L1037.8 715.7L1028.5 697.3L1035.3 701.3Z" fill="#0000ff"/>
<path d="M1192.6 600.5H1197.5V628.7L1204.4 624.7L1195.1 643.1L1185.8 624.7L1192.6 628.7Z" fill="#0a8a0a"/>
<path d="M1259.2 573.2H1264.2V601.4L1271.0 597.4L1261.7 615.8L1252.4 597.4L1259.2 601.4Z" fill="#000"/>
<path d="M993.6 1176.0H998.5V1204.4L1005.4 1200.4L996.1 1218.8L986.8 1200.4L993.6 1204.4Z" fill="#0000ff"/>
<path d="M1266.0 1051.3H1271.0V1080.0L1277.8 1076.0L1268.5 1094.4L1259.2 1076.0L1266.0 1080.0Z" fill="#0a8a0a"/>
<text x="1138.4" y="37.3" font-size="37" text-anchor="middle" font-family="Liberation Sans, Arial, Helvetica, sans-serif" fill="#000" stroke="#000" stroke-width="0.25" font-weight="normal" textLength="208" lengthAdjust="spacingAndGlyphs" >yeast topo II</text>
<text x="1138.6" y="500" font-size="37" text-anchor="middle" font-family="Liberation Sans, Arial, Helvetica, sans-serif" fill="#000" stroke="#000" stroke-width="0.25" font-weight="normal" textLength="261" lengthAdjust="spacingAndGlyphs" >human topo IIα</text>
<text x="1138.6" y="966" font-size="37" text-anchor="middle" font-family="Liberation Sans, Arial, Helvetica, sans-serif" fill="#000" stroke="#000" stroke-width="0.25" font-weight="normal" textLength="259.5" lengthAdjust="spacingAndGlyphs" >human topo IIβ</text>
<text transform="translate(711.5 225) rotate(-90)" font-size="34" text-anchor="middle" font-family="Liberation Sans, Arial, Helvetica, sans-serif" fill="#000" stroke="#000" stroke-width="0.25" textLength="192.5" lengthAdjust="spacingAndGlyphs">Turns relaxed</text>
<text transform="translate(707.7 679.5) rotate(-90)" font-size="34" text-anchor="middle" font-family="Liberation Sans, Arial, Helvetica, sans-serif" fill="#000" stroke="#000" stroke-width="0.25" textLength="192.5" lengthAdjust="spacingAndGlyphs">Turns relaxed</text>
<text transform="translate(708.5 1134.8) rotate(-90)" font-size="34" text-anchor="middle" font-family="Liberation Sans, Arial, Helvetica, sans-serif" fill="#000" stroke="#000" stroke-width="0.25" textLength="192.5" lengthAdjust="spacingAndGlyphs">Turns relaxed</text>
<text x="1124" y="1392.4" font-size="30.5" text-anchor="middle" font-family="Liberation Sans, Arial, Helvetica, sans-serif" fill="#000" stroke="#000" stroke-width="0.25" font-weight="normal" textLength="115.5" lengthAdjust="spacingAndGlyphs" >Time (s)</text>
<text x="652.8" y="30.6" font-size="40" text-anchor="start" font-family="Liberation Sans, Arial, Helvetica, sans-serif" fill="#000" stroke="#000" stroke-width="0.25" font-weight="bold" textLength="25" lengthAdjust="spacingAndGlyphs" >b</text>
<text x="17" y="330.5" font-size="42" text-anchor="start" font-family="Liberation Sans, Arial, Helvetica, sans-serif" fill="#000" stroke="#000" stroke-width="0.25" font-weight="bold" textLength="20.8" lengthAdjust="spacingAndGlyphs" >a</text>
</svg>
</body></html>
